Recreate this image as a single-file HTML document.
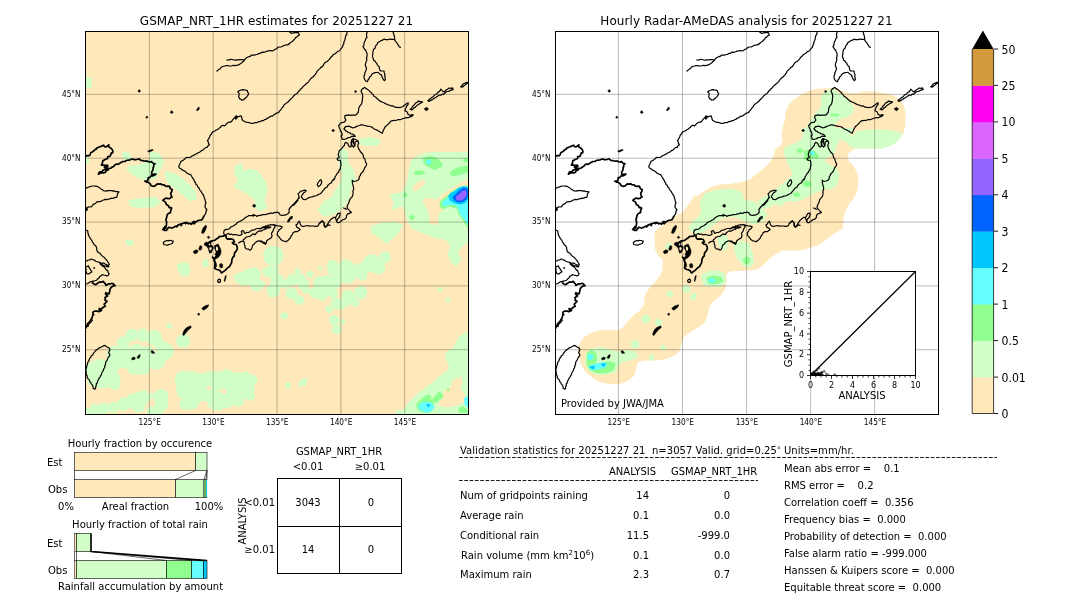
<!DOCTYPE html>
<html><head><meta charset="utf-8"><title>GSMAP_NRT_1HR validation 20251227 21</title>
<style>
html,body{margin:0;padding:0;background:#fff;}
body{width:1080px;height:612px;overflow:hidden;}
svg{display:block;font-family:'DejaVu Sans','Liberation Sans',sans-serif;fill:#000;}
.t12{font-size:12px} .ttl{letter-spacing:.07px} .t10{font-size:10px} .t8{font-size:8px} .tk{font-size:8.4px} .t9{font-size:9px} .t11{font-size:11px}
.m{text-anchor:middle} .e{text-anchor:end}
.coast{fill:none;stroke:#000;stroke-width:1.2;stroke-linejoin:round;stroke-linecap:round}
.isl{fill:#000;stroke:#000;stroke-width:0.45;stroke-linejoin:round}
.grid{stroke:#000;stroke-opacity:.27;stroke-width:1;fill:none}
.fr{fill:none;stroke:#000;stroke-width:1}
</style></head><body>
<svg width="1080" height="612" viewBox="0 0 1080 612">
<rect width="1080" height="612" fill="#fff"/>

<defs><clipPath id="clip1"><rect x="85.5" y="31.5" width="383.0" height="383.0"/></clipPath></defs>
<rect x="85.5" y="31.5" width="383.0" height="383.0" fill="#ffe8ba"/>
<g clip-path="url(#clip1)">
<path d="M85.0 78.1L90.6 77.4L91.3 87.5L85.0 88.1Z" fill="#d2ffc8" stroke="#d2ffc8" stroke-width="1.2" stroke-linejoin="round"/><path d="M122.6 151.8L128.9 153.4L132.1 159.6L127.4 161.2L122.6 156.5Z" fill="#d2ffc8" stroke="#d2ffc8" stroke-width="1.2" stroke-linejoin="round"/><path d="M149.3 151.8L158.7 153.4L163.4 161.2L160.3 169.0L155.6 178.5L147.7 180.0L139.9 178.5L132.1 173.7L127.4 169.0L128.9 165.9L138.3 165.9L146.2 162.8L150.9 158.1Z" fill="#d2ffc8" stroke="#d2ffc8" stroke-width="1.2" stroke-linejoin="round"/><path d="M165.0 172.2L174.4 173.7L182.3 178.5L188.5 184.7L194.8 191.0L196.4 198.8L190.1 200.4L182.3 194.1L174.4 187.9L167.2 181.6Z" fill="#d2ffc8" stroke="#d2ffc8" stroke-width="1.2" stroke-linejoin="round"/><path d="M128.9 200.4L141.5 198.8L155.6 197.3L160.3 202.0L154.0 206.7L141.5 207.3L130.5 206.1Z" fill="#d2ffc8" stroke="#d2ffc8" stroke-width="1.2" stroke-linejoin="round"/><path d="M85.0 156.5L88.1 157.1L88.8 162.8L85.0 163.4Z" fill="#d2ffc8" stroke="#d2ffc8" stroke-width="1.2" stroke-linejoin="round"/><path d="M235.6 165.9L241.9 164.3L243.4 172.2L249.7 169.0L256.0 170.6L260.7 175.3L265.4 181.6L267.0 191.0L263.8 200.4L267.0 206.7L260.7 211.4L254.4 206.7L256.0 200.4L248.1 194.1L240.3 189.4L234.0 186.3L238.7 180.0L235.0 173.7Z" fill="#d2ffc8" stroke="#d2ffc8" stroke-width="1.2" stroke-linejoin="round"/><path d="M360.1 139.2L371.1 137.7L380.5 140.8L377.4 145.5L366.4 145.5L359.2 143.9Z" fill="#d2ffc8" stroke="#d2ffc8" stroke-width="1.2" stroke-linejoin="round"/><path d="M341.3 148.6L347.6 151.8L347.6 162.8L352.3 169.0L355.4 178.5L350.7 187.9L349.2 197.3L344.5 205.1L338.2 211.4L331.9 214.5L324.1 216.1L317.8 209.8L324.1 202.0L331.9 197.3L335.0 191.0L339.7 184.7L342.9 175.3L339.7 165.9L338.2 156.5Z" fill="#d2ffc8" stroke="#d2ffc8" stroke-width="1.2" stroke-linejoin="round"/><path d="M469.0 153.0L461.9 152.6L453.6 152.6L445.4 152.6L437.2 152.4L428.9 153.0L422.1 154.4L415.9 157.2L411.8 160.6L410.4 166.1L409.0 171.6L408.3 177.1L407.0 182.5L405.6 187.4L402.8 191.5L398.0 193.5L392.5 194.2L390.5 196.3L392.5 199.0L394.6 202.5L393.2 205.9L391.9 208.6L393.9 209.3L396.7 207.3L400.1 205.9L404.2 207.3L405.6 211.4L407.0 216.9L408.3 222.4L412.5 227.8L420.7 229.2L426.2 226.5L430.3 224.0L469.0 224.0Z" fill="#d2ffc8" stroke="#d2ffc8" stroke-width="1.2" stroke-linejoin="round"/><path d="M125.8 240.8L132.1 240.2L133.6 244.6L127.4 245.5Z" fill="#d2ffc8" stroke="#d2ffc8" stroke-width="1.2" stroke-linejoin="round"/><path d="M177.5 264.4L187.0 262.8L190.1 269.1L188.5 275.3L182.3 276.0L178.5 270.6Z" fill="#d2ffc8" stroke="#d2ffc8" stroke-width="1.2" stroke-linejoin="round"/><path d="M202.6 261.2L207.4 259.6L208.0 265.9L203.6 266.5Z" fill="#d2ffc8" stroke="#d2ffc8" stroke-width="1.2" stroke-linejoin="round"/><path d="M234.0 275.3L241.9 272.2L249.7 269.1L256.0 267.5L260.7 272.2L259.1 280.0L265.4 283.2L260.7 289.5L254.4 291.0L249.7 284.7L241.9 284.7L235.6 281.6Z" fill="#d2ffc8" stroke="#d2ffc8" stroke-width="1.2" stroke-linejoin="round"/><path d="M262.3 269.1L270.1 267.5L277.9 265.9L277.9 276.9L270.1 276.9L263.8 274.7Z" fill="#d2ffc8" stroke="#d2ffc8" stroke-width="1.2" stroke-linejoin="round"/><path d="M267.0 289.5L277.9 287.9L277.9 295.7L270.1 296.7Z" fill="#d2ffc8" stroke="#d2ffc8" stroke-width="1.2" stroke-linejoin="round"/><path d="M167.2 324.0L171.3 324.0L171.3 328.0L167.2 328.0Z" fill="#d2ffc8" stroke="#d2ffc8" stroke-width="1.2" stroke-linejoin="round"/><path d="M371.1 226.7L380.5 223.6L393.1 222.0L402.5 225.1L397.8 233.0L391.5 239.3L383.7 240.8L377.4 236.1L372.7 233.0Z" fill="#d2ffc8" stroke="#d2ffc8" stroke-width="1.2" stroke-linejoin="round"/><path d="M410.3 222.0L469.9 222.0L469.9 240.8L462.1 245.5L457.4 251.8L460.5 259.6L455.8 265.9L451.1 261.2L448.0 253.4L451.1 245.5L446.4 239.3L435.4 237.7L427.6 234.5L419.7 231.4L411.9 228.3Z" fill="#d2ffc8" stroke="#d2ffc8" stroke-width="1.2" stroke-linejoin="round"/><path d="M442.0 289.5L441.7 290.6L440.7 291.2L439.6 291.2L438.6 290.6L438.3 289.5L438.6 288.3L439.6 287.7L440.7 287.7L441.7 288.3Z" fill="#d2ffc8" stroke="#d2ffc8" stroke-width="1.2" stroke-linejoin="round"/><path d="M449.9 300.4L449.5 301.5L448.6 302.2L447.4 302.2L446.5 301.5L446.1 300.4L446.5 299.3L447.4 298.6L448.6 298.6L449.5 299.3Z" fill="#d2ffc8" stroke="#d2ffc8" stroke-width="1.2" stroke-linejoin="round"/><path d="M285.8 316.1L285.3 317.6L284.1 318.5L282.5 318.5L281.2 317.6L280.8 316.1L281.2 314.6L282.5 313.7L284.1 313.7L285.3 314.6Z" fill="#d2ffc8" stroke="#d2ffc8" stroke-width="1.2" stroke-linejoin="round"/><path d="M300.5 380.4L306.8 378.9L305.2 385.1L299.0 385.8Z" fill="#d2ffc8" stroke="#d2ffc8" stroke-width="1.2" stroke-linejoin="round"/><path d="M290.5 385.1L290.0 386.6L288.8 387.5L287.2 387.5L285.9 386.6L285.5 385.1L285.9 383.7L287.2 382.8L288.8 382.8L290.0 383.7Z" fill="#d2ffc8" stroke="#d2ffc8" stroke-width="1.2" stroke-linejoin="round"/><path d="M469.4 330.7L464.6 333.4L459.8 336.9L456.4 342.4L454.3 347.8L449.5 350.6L445.4 354.0L446.8 359.5L448.8 363.6L449.5 369.1L445.4 372.5L441.3 375.3L437.2 378.7L433.0 382.8L428.2 386.3L424.1 389.7L420.0 392.5L415.9 395.9L411.8 400.0L408.3 404.1L405.6 408.2L401.5 411.0L397.4 410.7L394.6 415.1L469.4 415.1Z" fill="#d2ffc8" stroke="#d2ffc8" stroke-width="1.2" stroke-linejoin="round"/><path d="M283.1 255.8L281.2 261.6L276.3 265.1L270.3 265.1L265.4 261.6L263.6 255.8L265.4 250.1L270.3 246.6L276.3 246.6L281.2 250.1Z" fill="#d2ffc8" stroke="#d2ffc8" stroke-width="1.2" stroke-linejoin="round"/><path d="M274.3 270.8L273.5 273.4L271.3 275.0L268.7 275.0L266.5 273.4L265.7 270.8L266.5 268.3L268.7 266.7L271.3 266.7L273.5 268.3Z" fill="#d2ffc8" stroke="#d2ffc8" stroke-width="1.2" stroke-linejoin="round"/><path d="M284.0 280.8L282.8 284.7L279.5 287.0L275.5 287.0L272.2 284.7L271.0 280.8L272.2 277.0L275.5 274.7L279.5 274.7L282.8 277.0Z" fill="#d2ffc8" stroke="#d2ffc8" stroke-width="1.2" stroke-linejoin="round"/><path d="M279.8 290.0L278.6 293.8L275.3 296.2L271.3 296.2L268.1 293.8L266.8 290.0L268.1 286.2L271.3 283.8L275.3 283.8L278.6 286.2Z" fill="#d2ffc8" stroke="#d2ffc8" stroke-width="1.2" stroke-linejoin="round"/><path d="M289.3 284.2L288.5 286.7L286.3 288.3L283.7 288.3L281.5 286.7L280.7 284.2L281.5 281.6L283.7 280.0L286.3 280.0L288.5 281.6Z" fill="#d2ffc8" stroke="#d2ffc8" stroke-width="1.2" stroke-linejoin="round"/><path d="M297.9 280.0L296.9 283.2L294.2 285.2L290.8 285.2L288.1 283.2L287.1 280.0L288.1 276.8L290.8 274.8L294.2 274.8L296.9 276.8Z" fill="#d2ffc8" stroke="#d2ffc8" stroke-width="1.2" stroke-linejoin="round"/><path d="M305.4 279.2L304.4 282.4L301.7 284.3L298.3 284.3L295.6 282.4L294.6 279.2L295.6 276.0L298.3 274.0L301.7 274.0L304.4 276.0Z" fill="#d2ffc8" stroke="#d2ffc8" stroke-width="1.2" stroke-linejoin="round"/><path d="M308.8 284.2L307.7 287.4L305.0 289.3L301.7 289.3L299.0 287.4L297.9 284.2L299.0 281.0L301.7 279.0L305.0 279.0L307.7 281.0Z" fill="#d2ffc8" stroke="#d2ffc8" stroke-width="1.2" stroke-linejoin="round"/><path d="M297.1 293.3L296.0 296.5L293.3 298.5L290.0 298.5L287.3 296.5L286.2 293.3L287.3 290.1L290.0 288.2L293.3 288.2L296.0 290.1Z" fill="#d2ffc8" stroke="#d2ffc8" stroke-width="1.2" stroke-linejoin="round"/><path d="M300.1 271.7L299.6 273.2L298.3 274.1L296.7 274.1L295.4 273.2L294.9 271.7L295.4 270.1L296.7 269.2L298.3 269.2L299.6 270.1Z" fill="#d2ffc8" stroke="#d2ffc8" stroke-width="1.2" stroke-linejoin="round"/><path d="M303.5 300.0L302.7 302.5L300.5 304.1L297.8 304.1L295.7 302.5L294.8 300.0L295.7 297.5L297.8 295.9L300.5 295.9L302.7 297.5Z" fill="#d2ffc8" stroke="#d2ffc8" stroke-width="1.2" stroke-linejoin="round"/><path d="M313.0 274.2L312.5 275.9L310.9 277.1L309.1 277.1L307.5 275.9L307.0 274.2L307.5 272.4L309.1 271.3L310.9 271.3L312.5 272.4Z" fill="#d2ffc8" stroke="#d2ffc8" stroke-width="1.2" stroke-linejoin="round"/><path d="M309.1 290.0L308.5 291.9L306.8 293.1L304.8 293.1L303.2 291.9L302.6 290.0L303.2 288.1L304.8 286.9L306.8 286.9L308.5 288.1Z" fill="#d2ffc8" stroke="#d2ffc8" stroke-width="1.2" stroke-linejoin="round"/><path d="M321.7 268.3L321.4 269.4L320.5 270.0L319.5 270.0L318.6 269.4L318.3 268.3L318.6 267.3L319.5 266.7L320.5 266.7L321.4 267.3Z" fill="#d2ffc8" stroke="#d2ffc8" stroke-width="1.2" stroke-linejoin="round"/><path d="M326.1 282.5L324.9 286.1L321.9 288.3L318.1 288.3L315.1 286.1L313.9 282.5L315.1 278.9L318.1 276.7L321.9 276.7L324.9 278.9Z" fill="#d2ffc8" stroke="#d2ffc8" stroke-width="1.2" stroke-linejoin="round"/><path d="M320.4 292.5L319.4 295.7L316.7 297.7L313.3 297.7L310.6 295.7L309.6 292.5L310.6 289.3L313.3 287.3L316.7 287.3L319.4 289.3Z" fill="#d2ffc8" stroke="#d2ffc8" stroke-width="1.2" stroke-linejoin="round"/><path d="M327.7 294.2L326.6 297.7L323.5 299.9L319.8 299.9L316.8 297.7L315.6 294.2L316.8 290.6L319.8 288.4L323.5 288.4L326.6 290.6Z" fill="#d2ffc8" stroke="#d2ffc8" stroke-width="1.2" stroke-linejoin="round"/><path d="M333.6 281.7L332.4 285.2L329.4 287.4L325.6 287.4L322.6 285.2L321.4 281.7L322.6 278.1L325.6 275.9L329.4 275.9L332.4 278.1Z" fill="#d2ffc8" stroke="#d2ffc8" stroke-width="1.2" stroke-linejoin="round"/><path d="M332.9 290.0L331.9 293.2L329.2 295.2L325.8 295.2L323.1 293.2L322.1 290.0L323.1 286.8L325.8 284.8L329.2 284.8L331.9 286.8Z" fill="#d2ffc8" stroke="#d2ffc8" stroke-width="1.2" stroke-linejoin="round"/><path d="M340.7 282.5L339.4 286.3L336.2 288.7L332.2 288.7L328.9 286.3L327.7 282.5L328.9 278.7L332.2 276.3L336.2 276.3L339.4 278.7Z" fill="#d2ffc8" stroke="#d2ffc8" stroke-width="1.2" stroke-linejoin="round"/><path d="M337.7 293.3L336.8 295.9L334.7 297.5L332.0 297.5L329.8 295.9L329.0 293.3L329.8 290.8L332.0 289.2L334.7 289.2L336.8 290.8Z" fill="#d2ffc8" stroke="#d2ffc8" stroke-width="1.2" stroke-linejoin="round"/><path d="M337.9 265.8L336.9 269.0L334.2 271.0L330.8 271.0L328.1 269.0L327.1 265.8L328.1 262.6L330.8 260.7L334.2 260.7L336.9 262.6Z" fill="#d2ffc8" stroke="#d2ffc8" stroke-width="1.2" stroke-linejoin="round"/><path d="M336.8 270.8L336.0 273.4L333.8 275.0L331.2 275.0L329.0 273.4L328.2 270.8L329.0 268.3L331.2 266.7L333.8 266.7L336.0 268.3Z" fill="#d2ffc8" stroke="#d2ffc8" stroke-width="1.2" stroke-linejoin="round"/><path d="M346.5 276.7L345.3 280.5L342.0 282.8L338.0 282.8L334.7 280.5L333.5 276.7L334.7 272.8L338.0 270.5L342.0 270.5L345.3 272.8Z" fill="#d2ffc8" stroke="#d2ffc8" stroke-width="1.2" stroke-linejoin="round"/><path d="M353.4 267.5L352.0 272.0L348.2 274.7L343.5 274.7L339.7 272.0L338.2 267.5L339.7 263.0L343.5 260.3L348.2 260.3L352.0 263.0Z" fill="#d2ffc8" stroke="#d2ffc8" stroke-width="1.2" stroke-linejoin="round"/><path d="M354.8 276.7L353.6 280.5L350.3 282.8L346.3 282.8L343.1 280.5L341.8 276.7L343.1 272.8L346.3 270.5L350.3 270.5L353.6 272.8Z" fill="#d2ffc8" stroke="#d2ffc8" stroke-width="1.2" stroke-linejoin="round"/><path d="M359.8 271.7L358.6 275.5L355.3 277.8L351.3 277.8L348.1 275.5L346.8 271.7L348.1 267.8L351.3 265.5L355.3 265.5L358.6 267.8Z" fill="#d2ffc8" stroke="#d2ffc8" stroke-width="1.2" stroke-linejoin="round"/><path d="M367.6 270.8L366.1 275.3L362.3 278.0L357.7 278.0L353.9 275.3L352.4 270.8L353.9 266.4L357.7 263.6L362.3 263.6L366.1 266.4Z" fill="#d2ffc8" stroke="#d2ffc8" stroke-width="1.2" stroke-linejoin="round"/><path d="M366.8 275.8L366.0 278.4L363.8 280.0L361.2 280.0L359.0 278.4L358.2 275.8L359.0 273.3L361.2 271.7L363.8 271.7L366.0 273.3Z" fill="#d2ffc8" stroke="#d2ffc8" stroke-width="1.2" stroke-linejoin="round"/><path d="M380.3 263.3L378.7 268.4L374.3 271.6L369.0 271.6L364.7 268.4L363.0 263.3L364.7 258.2L369.0 255.1L374.3 255.1L378.7 258.2Z" fill="#d2ffc8" stroke="#d2ffc8" stroke-width="1.2" stroke-linejoin="round"/><path d="M384.8 267.5L383.6 271.3L380.3 273.7L376.3 273.7L373.1 271.3L371.8 267.5L373.1 263.7L376.3 261.3L380.3 261.3L383.6 263.7Z" fill="#d2ffc8" stroke="#d2ffc8" stroke-width="1.2" stroke-linejoin="round"/><path d="M390.4 257.5L389.4 260.7L386.7 262.7L383.3 262.7L380.6 260.7L379.6 257.5L380.6 254.3L383.3 252.3L386.7 252.3L389.4 254.3Z" fill="#d2ffc8" stroke="#d2ffc8" stroke-width="1.2" stroke-linejoin="round"/><path d="M366.9 292.5L365.7 296.1L362.7 298.3L359.0 298.3L355.9 296.1L354.8 292.5L355.9 288.9L359.0 286.7L362.7 286.7L365.7 288.9Z" fill="#d2ffc8" stroke="#d2ffc8" stroke-width="1.2" stroke-linejoin="round"/><path d="M358.9 302.5L358.2 304.8L356.2 306.2L353.8 306.2L351.8 304.8L351.1 302.5L351.8 300.2L353.8 298.8L356.2 298.8L358.2 300.2Z" fill="#d2ffc8" stroke="#d2ffc8" stroke-width="1.2" stroke-linejoin="round"/><path d="M354.8 296.7L353.6 300.5L350.3 302.8L346.3 302.8L343.1 300.5L341.8 296.7L343.1 292.8L346.3 290.5L350.3 290.5L353.6 292.8Z" fill="#d2ffc8" stroke="#d2ffc8" stroke-width="1.2" stroke-linejoin="round"/><path d="M342.1 303.3L341.0 306.5L338.3 308.5L335.0 308.5L332.3 306.5L331.2 303.3L332.3 300.1L335.0 298.2L338.3 298.2L341.0 300.1Z" fill="#d2ffc8" stroke="#d2ffc8" stroke-width="1.2" stroke-linejoin="round"/><path d="M344.1 305.8L343.5 307.7L341.8 308.9L339.8 308.9L338.2 307.7L337.6 305.8L338.2 303.9L339.8 302.7L341.8 302.7L343.5 303.9Z" fill="#d2ffc8" stroke="#d2ffc8" stroke-width="1.2" stroke-linejoin="round"/><path d="M350.2 302.5L349.3 305.0L347.2 306.6L344.5 306.6L342.3 305.0L341.5 302.5L342.3 300.0L344.5 298.4L347.2 298.4L349.3 300.0Z" fill="#d2ffc8" stroke="#d2ffc8" stroke-width="1.2" stroke-linejoin="round"/><path d="M332.4 309.2L331.8 311.1L330.2 312.3L328.2 312.3L326.5 311.1L325.9 309.2L326.5 307.3L328.2 306.1L330.2 306.1L331.8 307.3Z" fill="#d2ffc8" stroke="#d2ffc8" stroke-width="1.2" stroke-linejoin="round"/><path d="M338.9 320.0L338.0 322.8L335.6 324.5L332.7 324.5L330.3 322.8L329.4 320.0L330.3 317.2L332.7 315.5L335.6 315.5L338.0 317.2Z" fill="#d2ffc8" stroke="#d2ffc8" stroke-width="1.2" stroke-linejoin="round"/><path d="M341.0 329.2L340.2 331.7L338.0 333.3L335.3 333.3L333.2 331.7L332.3 329.2L333.2 326.6L335.3 325.0L338.0 325.0L340.2 326.6Z" fill="#d2ffc8" stroke="#d2ffc8" stroke-width="1.2" stroke-linejoin="round"/><path d="M344.7 322.0L344.3 323.3L343.2 324.1L341.8 324.1L340.7 323.3L340.3 322.0L340.7 320.7L341.8 319.9L343.2 319.9L344.3 320.7Z" fill="#d2ffc8" stroke="#d2ffc8" stroke-width="1.2" stroke-linejoin="round"/><path d="M287.7 315.8L287.1 317.6L285.6 318.7L283.7 318.7L282.2 317.6L281.6 315.8L282.2 314.1L283.7 312.9L285.6 312.9L287.1 314.1Z" fill="#d2ffc8" stroke="#d2ffc8" stroke-width="1.2" stroke-linejoin="round"/><path d="M389.3 240.0L388.8 241.5L387.5 242.5L385.9 242.5L384.6 241.5L384.1 240.0L384.6 238.5L385.9 237.5L387.5 237.5L388.8 238.5Z" fill="#d2ffc8" stroke="#d2ffc8" stroke-width="1.2" stroke-linejoin="round"/><path d="M137.5 335.2L136.4 338.6L133.5 340.7L129.9 340.7L126.9 338.6L125.8 335.2L126.9 331.7L129.9 329.6L133.5 329.6L136.4 331.7Z" fill="#d2ffc8" stroke="#d2ffc8" stroke-width="1.2" stroke-linejoin="round"/><path d="M148.8 335.2L147.6 338.8L144.4 341.1L140.6 341.1L137.4 338.8L136.2 335.2L137.4 331.5L140.6 329.2L144.4 329.2L147.6 331.5Z" fill="#d2ffc8" stroke="#d2ffc8" stroke-width="1.2" stroke-linejoin="round"/><path d="M161.5 337.7L160.1 342.0L156.4 344.6L151.9 344.6L148.3 342.0L146.9 337.7L148.3 333.4L151.9 330.7L156.4 330.7L160.1 333.4Z" fill="#d2ffc8" stroke="#d2ffc8" stroke-width="1.2" stroke-linejoin="round"/><path d="M129.2 342.7L128.1 346.1L125.1 348.2L121.5 348.2L118.6 346.1L117.5 342.7L118.6 339.2L121.5 337.1L125.1 337.1L128.1 339.2Z" fill="#d2ffc8" stroke="#d2ffc8" stroke-width="1.2" stroke-linejoin="round"/><path d="M165.2 345.2L164.2 348.2L161.6 350.1L158.4 350.1L155.8 348.2L154.8 345.2L155.8 342.1L158.4 340.2L161.6 340.2L164.2 342.1Z" fill="#d2ffc8" stroke="#d2ffc8" stroke-width="1.2" stroke-linejoin="round"/><path d="M173.3 351.0L171.7 355.9L167.6 358.9L162.4 358.9L158.3 355.9L156.7 351.0L158.3 346.1L162.4 343.1L167.6 343.1L171.7 346.1Z" fill="#d2ffc8" stroke="#d2ffc8" stroke-width="1.2" stroke-linejoin="round"/><path d="M190.0 341.0L188.7 344.9L185.4 347.3L181.3 347.3L177.9 344.9L176.7 341.0L177.9 337.1L181.3 334.7L185.4 334.7L188.7 337.1Z" fill="#d2ffc8" stroke="#d2ffc8" stroke-width="1.2" stroke-linejoin="round"/><path d="M123.3 354.3L121.7 359.2L117.6 362.3L112.4 362.3L108.3 359.2L106.7 354.3L108.3 349.4L112.4 346.4L117.6 346.4L121.7 349.4Z" fill="#d2ffc8" stroke="#d2ffc8" stroke-width="1.2" stroke-linejoin="round"/><path d="M135.4 357.7L133.4 363.8L128.2 367.6L121.8 367.6L116.6 363.8L114.6 357.7L116.6 351.5L121.8 347.8L128.2 347.8L133.4 351.5Z" fill="#d2ffc8" stroke="#d2ffc8" stroke-width="1.2" stroke-linejoin="round"/><path d="M145.0 352.7L143.4 357.6L139.2 360.6L134.1 360.6L129.9 357.6L128.3 352.7L129.9 347.8L134.1 344.7L139.2 344.7L143.4 347.8Z" fill="#d2ffc8" stroke="#d2ffc8" stroke-width="1.2" stroke-linejoin="round"/><path d="M156.0 356.0L154.3 361.5L149.6 364.9L143.8 364.9L139.1 361.5L137.3 356.0L139.1 350.5L143.8 347.1L149.6 347.1L154.3 350.5Z" fill="#d2ffc8" stroke="#d2ffc8" stroke-width="1.2" stroke-linejoin="round"/><path d="M165.0 361.0L163.4 365.9L159.2 368.9L154.1 368.9L149.9 365.9L148.3 361.0L149.9 356.1L154.1 353.1L159.2 353.1L163.4 356.1Z" fill="#d2ffc8" stroke="#d2ffc8" stroke-width="1.2" stroke-linejoin="round"/><path d="M143.3 366.0L141.7 370.9L137.6 373.9L132.4 373.9L128.3 370.9L126.7 366.0L128.3 361.1L132.4 358.1L137.6 358.1L141.7 361.1Z" fill="#d2ffc8" stroke="#d2ffc8" stroke-width="1.2" stroke-linejoin="round"/><path d="M149.6 368.5L148.4 372.2L145.3 374.4L141.4 374.4L138.3 372.2L137.1 368.5L138.3 364.8L141.4 362.6L145.3 362.6L148.4 364.8Z" fill="#d2ffc8" stroke="#d2ffc8" stroke-width="1.2" stroke-linejoin="round"/><path d="M120.6 364.3L119.2 368.6L115.6 371.3L111.1 371.3L107.4 368.6L106.0 364.3L107.4 360.0L111.1 357.4L115.6 357.4L119.2 360.0Z" fill="#d2ffc8" stroke="#d2ffc8" stroke-width="1.2" stroke-linejoin="round"/><path d="M117.1 371.0L115.1 377.1L109.9 380.9L103.4 380.9L98.2 377.1L96.2 371.0L98.2 364.9L103.4 361.1L109.9 361.1L115.1 364.9Z" fill="#d2ffc8" stroke="#d2ffc8" stroke-width="1.2" stroke-linejoin="round"/><path d="M120.0 379.3L118.4 384.2L114.2 387.3L109.1 387.3L104.9 384.2L103.3 379.3L104.9 374.4L109.1 371.4L114.2 371.4L118.4 374.4Z" fill="#d2ffc8" stroke="#d2ffc8" stroke-width="1.2" stroke-linejoin="round"/><path d="M112.1 377.7L110.1 383.8L104.9 387.6L98.4 387.6L93.2 383.8L91.2 377.7L93.2 371.5L98.4 367.8L104.9 367.8L110.1 371.5Z" fill="#d2ffc8" stroke="#d2ffc8" stroke-width="1.2" stroke-linejoin="round"/><path d="M108.3 367.7L106.7 372.6L102.6 375.6L97.4 375.6L93.3 372.6L91.7 367.7L93.3 362.8L97.4 359.7L102.6 359.7L106.7 362.8Z" fill="#d2ffc8" stroke="#d2ffc8" stroke-width="1.2" stroke-linejoin="round"/><path d="M120.2 384.3L119.2 387.4L116.6 389.3L113.4 389.3L110.8 387.4L109.8 384.3L110.8 381.3L113.4 379.4L116.6 379.4L119.2 381.3Z" fill="#d2ffc8" stroke="#d2ffc8" stroke-width="1.2" stroke-linejoin="round"/><path d="M103.3 369.3L101.7 374.2L97.6 377.3L92.4 377.3L88.3 374.2L86.7 369.3L88.3 364.4L92.4 361.4L97.6 361.4L101.7 364.4Z" fill="#d2ffc8" stroke="#d2ffc8" stroke-width="1.2" stroke-linejoin="round"/><path d="M102.3 379.3L100.9 383.6L97.3 386.3L92.7 386.3L89.1 383.6L87.7 379.3L89.1 375.0L92.7 372.4L97.3 372.4L100.9 375.0Z" fill="#d2ffc8" stroke="#d2ffc8" stroke-width="1.2" stroke-linejoin="round"/><path d="M100.2 409.3L99.2 412.4L96.6 414.3L93.4 414.3L90.8 412.4L89.8 409.3L90.8 406.3L93.4 404.4L96.6 404.4L99.2 406.3Z" fill="#d2ffc8" stroke="#d2ffc8" stroke-width="1.2" stroke-linejoin="round"/><path d="M108.5 408.5L107.5 411.6L104.9 413.5L101.7 413.5L99.1 411.6L98.1 408.5L99.1 405.4L101.7 403.5L104.9 403.5L107.5 405.4Z" fill="#d2ffc8" stroke="#d2ffc8" stroke-width="1.2" stroke-linejoin="round"/><path d="M118.5 407.7L117.5 410.7L114.9 412.6L111.7 412.6L109.1 410.7L108.1 407.7L109.1 404.6L111.7 402.7L114.9 402.7L117.5 404.6Z" fill="#d2ffc8" stroke="#d2ffc8" stroke-width="1.2" stroke-linejoin="round"/><path d="M129.6 404.3L128.4 408.0L125.3 410.3L121.4 410.3L118.3 408.0L117.1 404.3L118.3 400.7L121.4 398.4L125.3 398.4L128.4 400.7Z" fill="#d2ffc8" stroke="#d2ffc8" stroke-width="1.2" stroke-linejoin="round"/><path d="M140.6 401.0L139.2 405.3L135.6 407.9L131.1 407.9L127.4 405.3L126.0 401.0L127.4 396.7L131.1 394.1L135.6 394.1L139.2 396.7Z" fill="#d2ffc8" stroke="#d2ffc8" stroke-width="1.2" stroke-linejoin="round"/><path d="M149.0 398.5L147.6 402.8L143.9 405.4L139.4 405.4L135.8 402.8L134.4 398.5L135.8 394.2L139.4 391.6L143.9 391.6L147.6 394.2Z" fill="#d2ffc8" stroke="#d2ffc8" stroke-width="1.2" stroke-linejoin="round"/><path d="M147.3 393.5L146.7 395.3L145.1 396.5L143.2 396.5L141.6 395.3L141.0 393.5L141.6 391.7L143.2 390.5L145.1 390.5L146.7 391.7Z" fill="#d2ffc8" stroke="#d2ffc8" stroke-width="1.2" stroke-linejoin="round"/><path d="M144.6 406.0L143.4 409.7L140.3 411.9L136.4 411.9L133.3 409.7L132.1 406.0L133.3 402.3L136.4 400.1L140.3 400.1L143.4 402.3Z" fill="#d2ffc8" stroke="#d2ffc8" stroke-width="1.2" stroke-linejoin="round"/><path d="M153.3 396.0L152.9 397.5L151.6 398.4L150.1 398.4L148.8 397.5L148.3 396.0L148.8 394.5L150.1 393.6L151.6 393.6L152.9 394.5Z" fill="#d2ffc8" stroke="#d2ffc8" stroke-width="1.2" stroke-linejoin="round"/><path d="M168.1 396.8L166.7 401.1L163.1 403.8L158.6 403.8L154.9 401.1L153.5 396.8L154.9 392.5L158.6 389.9L163.1 389.9L166.7 392.5Z" fill="#d2ffc8" stroke="#d2ffc8" stroke-width="1.2" stroke-linejoin="round"/><path d="M167.9 404.3L166.7 408.0L163.6 410.3L159.7 410.3L156.6 408.0L155.4 404.3L156.6 400.7L159.7 398.4L163.6 398.4L166.7 400.7Z" fill="#d2ffc8" stroke="#d2ffc8" stroke-width="1.2" stroke-linejoin="round"/><path d="M163.5 410.2L162.5 413.2L159.9 415.1L156.7 415.1L154.1 413.2L153.1 410.2L154.1 407.1L156.7 405.2L159.9 405.2L162.5 407.1Z" fill="#d2ffc8" stroke="#d2ffc8" stroke-width="1.2" stroke-linejoin="round"/><path d="M155.0 411.0L154.2 413.4L152.1 415.0L149.5 415.0L147.5 413.4L146.7 411.0L147.5 408.6L149.5 407.0L152.1 407.0L154.2 408.6Z" fill="#d2ffc8" stroke="#d2ffc8" stroke-width="1.2" stroke-linejoin="round"/><path d="M92.5 412.7L91.7 415.1L89.6 416.6L87.0 416.6L85.0 415.1L84.2 412.7L85.0 410.2L87.0 408.7L89.6 408.7L91.7 410.2Z" fill="#d2ffc8" stroke="#d2ffc8" stroke-width="1.2" stroke-linejoin="round"/><path d="M191.7 379.3L190.1 384.2L185.9 387.3L180.8 387.3L176.6 384.2L175.0 379.3L176.6 374.4L180.8 371.4L185.9 371.4L190.1 374.4Z" fill="#d2ffc8" stroke="#d2ffc8" stroke-width="1.2" stroke-linejoin="round"/><path d="M201.0 381.0L199.3 386.5L194.6 389.9L188.8 389.9L184.1 386.5L182.3 381.0L184.1 375.5L188.8 372.1L194.6 372.1L199.3 375.5Z" fill="#d2ffc8" stroke="#d2ffc8" stroke-width="1.2" stroke-linejoin="round"/><path d="M211.0 382.7L209.3 388.2L204.6 391.6L198.8 391.6L194.1 388.2L192.3 382.7L194.1 377.2L198.8 373.8L204.6 373.8L209.3 377.2Z" fill="#d2ffc8" stroke="#d2ffc8" stroke-width="1.2" stroke-linejoin="round"/><path d="M197.1 389.3L195.1 395.5L189.9 399.2L183.4 399.2L178.2 395.5L176.3 389.3L178.2 383.2L183.4 379.4L189.9 379.4L195.1 383.2Z" fill="#d2ffc8" stroke="#d2ffc8" stroke-width="1.2" stroke-linejoin="round"/><path d="M205.4 392.7L203.4 398.8L198.2 402.6L191.8 402.6L186.6 398.8L184.6 392.7L186.6 386.5L191.8 382.8L198.2 382.8L203.4 386.5Z" fill="#d2ffc8" stroke="#d2ffc8" stroke-width="1.2" stroke-linejoin="round"/><path d="M211.7 392.7L210.1 397.6L205.9 400.6L200.8 400.6L196.6 397.6L195.0 392.7L196.6 387.8L200.8 384.7L205.9 384.7L210.1 387.8Z" fill="#d2ffc8" stroke="#d2ffc8" stroke-width="1.2" stroke-linejoin="round"/><path d="M199.0 401.8L197.6 406.1L193.9 408.8L189.4 408.8L185.8 406.1L184.4 401.8L185.8 397.5L189.4 394.9L193.9 394.9L197.6 397.5Z" fill="#d2ffc8" stroke="#d2ffc8" stroke-width="1.2" stroke-linejoin="round"/><path d="M190.2 404.3L189.2 407.4L186.6 409.3L183.4 409.3L180.8 407.4L179.8 404.3L180.8 401.3L183.4 399.4L186.6 399.4L189.2 401.3Z" fill="#d2ffc8" stroke="#d2ffc8" stroke-width="1.2" stroke-linejoin="round"/><path d="M216.2 377.7L215.1 381.3L211.9 383.6L208.1 383.6L204.9 381.3L203.8 377.7L204.9 374.0L208.1 371.7L211.9 371.7L215.1 374.0Z" fill="#d2ffc8" stroke="#d2ffc8" stroke-width="1.2" stroke-linejoin="round"/><path d="M226.0 381.0L224.3 386.5L219.6 389.9L213.8 389.9L209.1 386.5L207.3 381.0L209.1 375.5L213.8 372.1L219.6 372.1L224.3 375.5Z" fill="#d2ffc8" stroke="#d2ffc8" stroke-width="1.2" stroke-linejoin="round"/><path d="M232.9 376.0L231.7 379.7L228.6 381.9L224.7 381.9L221.6 379.7L220.4 376.0L221.6 372.3L224.7 370.1L228.6 370.1L231.7 372.3Z" fill="#d2ffc8" stroke="#d2ffc8" stroke-width="1.2" stroke-linejoin="round"/><path d="M237.7 384.3L235.9 389.8L231.2 393.2L225.4 393.2L220.7 389.8L219.0 384.3L220.7 378.8L225.4 375.4L231.2 375.4L235.9 378.8Z" fill="#d2ffc8" stroke="#d2ffc8" stroke-width="1.2" stroke-linejoin="round"/><path d="M245.0 381.0L243.4 385.9L239.2 388.9L234.1 388.9L229.9 385.9L228.3 381.0L229.9 376.1L234.1 373.1L239.2 373.1L243.4 376.1Z" fill="#d2ffc8" stroke="#d2ffc8" stroke-width="1.2" stroke-linejoin="round"/><path d="M252.3 379.3L250.9 383.6L247.3 386.3L242.7 386.3L239.1 383.6L237.7 379.3L239.1 375.0L242.7 372.4L247.3 372.4L250.9 375.0Z" fill="#d2ffc8" stroke="#d2ffc8" stroke-width="1.2" stroke-linejoin="round"/><path d="M256.9 380.2L255.9 383.2L253.3 385.1L250.1 385.1L247.5 383.2L246.5 380.2L247.5 377.1L250.1 375.2L253.3 375.2L255.9 377.1Z" fill="#d2ffc8" stroke="#d2ffc8" stroke-width="1.2" stroke-linejoin="round"/><path d="M254.4 389.3L252.6 394.8L247.9 398.2L242.1 398.2L237.4 394.8L235.6 389.3L237.4 383.8L242.1 380.4L247.9 380.4L252.6 383.8Z" fill="#d2ffc8" stroke="#d2ffc8" stroke-width="1.2" stroke-linejoin="round"/><path d="M244.4 394.3L242.6 399.8L237.9 403.2L232.1 403.2L227.4 399.8L225.6 394.3L227.4 388.8L232.1 385.4L237.9 385.4L242.6 388.8Z" fill="#d2ffc8" stroke="#d2ffc8" stroke-width="1.2" stroke-linejoin="round"/><path d="M235.0 399.3L233.4 404.2L229.2 407.3L224.1 407.3L219.9 404.2L218.3 399.3L219.9 394.4L224.1 391.4L229.2 391.4L233.4 394.4Z" fill="#d2ffc8" stroke="#d2ffc8" stroke-width="1.2" stroke-linejoin="round"/><path d="M226.0 401.0L224.3 406.5L219.6 409.9L213.8 409.9L209.1 406.5L207.3 401.0L209.1 395.5L213.8 392.1L219.6 392.1L224.3 395.5Z" fill="#d2ffc8" stroke="#d2ffc8" stroke-width="1.2" stroke-linejoin="round"/><path d="M217.9 396.0L216.7 399.7L213.6 401.9L209.7 401.9L206.6 399.7L205.4 396.0L206.6 392.3L209.7 390.1L213.6 390.1L216.7 392.3Z" fill="#d2ffc8" stroke="#d2ffc8" stroke-width="1.2" stroke-linejoin="round"/><path d="M243.5 401.0L242.5 404.1L239.9 406.0L236.7 406.0L234.1 404.1L233.1 401.0L234.1 397.9L236.7 396.0L239.9 396.0L242.5 397.9Z" fill="#d2ffc8" stroke="#d2ffc8" stroke-width="1.2" stroke-linejoin="round"/><path d="M254.2 396.0L253.4 398.4L251.3 400.0L248.7 400.0L246.6 398.4L245.8 396.0L246.6 393.6L248.7 392.0L251.3 392.0L253.4 393.6Z" fill="#d2ffc8" stroke="#d2ffc8" stroke-width="1.2" stroke-linejoin="round"/><path d="M413.1 186.7L416.6 183.9L420.7 181.2L424.1 180.5L424.8 182.5L422.1 186.0L418.6 188.7L415.2 190.5L413.1 189.4Z" fill="#ffe8ba" stroke="#ffe8ba" stroke-width="1.2" stroke-linejoin="round"/><path d="M424.1 199.0L430.3 198.3L435.8 200.4L439.9 197.6L445.4 192.8L450.9 189.4L456.4 186.0L461.9 182.5L469.0 179.1L469.0 185.3L463.2 187.4L457.7 189.4L452.3 192.2L448.1 194.9L444.0 198.3L441.3 200.4L439.2 204.5L439.9 208.6L442.6 210.0L439.9 211.4L437.8 214.1L437.2 218.2L437.8 224.0L430.3 224.0L429.6 216.9L428.9 211.4L426.2 205.9L423.7 202.5Z" fill="#ffe8ba" stroke="#ffe8ba" stroke-width="1.2" stroke-linejoin="round"/><path d="M452.3 381.5L456.4 378.7L461.2 377.4L461.9 382.2L459.8 387.6L461.9 391.8L464.6 395.9L463.9 401.4L459.1 404.1L453.6 405.5L448.1 406.9L442.6 406.2L439.2 404.8L439.9 401.4L443.3 398.6L442.6 394.5L445.4 390.4L449.5 387.6L452.9 385.6Z" fill="#ffe8ba" stroke="#ffe8ba" stroke-width="1.2" stroke-linejoin="round"/><path d="M225.8 391.3L225.4 392.6L224.3 393.4L223.0 393.4L221.9 392.6L221.5 391.3L221.9 390.1L223.0 389.3L224.3 389.3L225.4 390.1Z" fill="#ffe8ba" stroke="#ffe8ba" stroke-width="1.2" stroke-linejoin="round"/><path d="M211.0 388.0L210.6 389.1L209.7 389.7L208.6 389.7L207.7 389.1L207.3 388.0L207.7 386.9L208.6 386.3L209.7 386.3L210.6 386.9Z" fill="#ffe8ba" stroke="#ffe8ba" stroke-width="1.2" stroke-linejoin="round"/><path d="M423.4 159.2L426.2 157.2L431.0 156.5L435.1 157.8L439.2 160.6L442.0 164.0L441.3 166.8L437.8 167.5L435.1 169.5L432.4 168.1L429.6 166.8L426.2 165.4L424.1 162.6Z" fill="#90ff90" stroke="#90ff90" stroke-width="1.2" stroke-linejoin="round"/><path d="M414.5 172.3L417.9 170.9L422.7 171.3L424.8 172.9L421.4 174.3L417.3 174.6L414.9 173.6Z" fill="#90ff90" stroke="#90ff90" stroke-width="1.2" stroke-linejoin="round"/><path d="M450.2 172.9L453.6 170.2L457.7 168.1L463.2 166.8L469.0 166.1L469.0 170.9L463.9 172.9L459.1 174.3L454.3 175.4L450.9 174.6Z" fill="#90ff90" stroke="#90ff90" stroke-width="1.2" stroke-linejoin="round"/><path d="M407.0 194.9L406.6 195.9L405.8 196.5L404.8 196.5L404.0 195.9L403.7 194.9L404.0 193.9L404.8 193.3L405.8 193.3L406.6 193.9Z" fill="#90ff90" stroke="#90ff90" stroke-width="1.2" stroke-linejoin="round"/><path d="M409.7 216.9L412.5 214.8L414.5 216.9L412.5 219.3L410.4 218.9Z" fill="#90ff90" stroke="#90ff90" stroke-width="1.2" stroke-linejoin="round"/><path d="M463.2 159.9L466.0 158.5L469.0 159.2L469.0 162.0L464.6 162.0Z" fill="#90ff90" stroke="#90ff90" stroke-width="1.2" stroke-linejoin="round"/><path d="M439.9 204.5L441.3 200.4L445.4 197.6L449.5 194.2L453.6 190.8L459.1 187.4L464.6 186.0L469.0 186.0L469.0 227.8L466.0 225.1L464.6 222.4L461.9 218.2L459.1 214.1L457.7 208.6L453.6 207.3L449.5 205.9L446.1 207.3L442.6 208.6L440.6 207.3Z" fill="#90ff90" stroke="#90ff90" stroke-width="1.2" stroke-linejoin="round"/><path d="M416.6 404.8L420.0 400.7L424.1 397.3L427.5 395.2L430.3 395.9L431.0 400.0L433.0 402.7L433.7 406.9L431.7 410.3L427.5 412.4L422.1 411.7L417.9 408.9Z" fill="#90ff90" stroke="#90ff90" stroke-width="1.2" stroke-linejoin="round"/><path d="M433.0 399.3L436.5 394.5L439.2 392.5L442.0 393.8L442.6 397.3L439.2 399.3L436.5 402.1L433.7 402.1Z" fill="#90ff90" stroke="#90ff90" stroke-width="1.2" stroke-linejoin="round"/><path d="M447.5 389.0L448.8 389.0L448.8 390.4L447.5 390.4Z" fill="#90ff90" stroke="#90ff90" stroke-width="1.2" stroke-linejoin="round"/><path d="M459.1 408.2L461.9 406.9L466.0 408.9L467.4 412.4L459.8 412.4Z" fill="#90ff90" stroke="#90ff90" stroke-width="1.2" stroke-linejoin="round"/><path d="M430.6 162.0L430.2 163.1L429.2 163.8L428.1 163.8L427.1 163.1L426.7 162.0L427.1 160.8L428.1 160.1L429.2 160.1L430.2 160.8Z" fill="#66ffff" stroke="#66ffff" stroke-width="1.2" stroke-linejoin="round"/><path d="M442.6 204.5L444.0 201.1L448.1 198.3L450.2 194.9L453.6 192.2L459.1 188.0L464.6 186.7L469.0 187.4L469.0 225.1L466.7 222.4L464.6 218.9L461.2 214.8L459.1 210.0L457.7 205.9L453.6 204.5L448.1 204.5L445.4 205.9Z" fill="#66ffff" stroke="#66ffff" stroke-width="1.2" stroke-linejoin="round"/><path d="M418.6 406.9L421.4 403.4L426.2 402.1L431.0 403.4L433.7 406.9L431.7 410.3L426.9 412.1L421.4 410.3Z" fill="#66ffff" stroke="#66ffff" stroke-width="1.2" stroke-linejoin="round"/><path d="M464.6 398.6L467.8 396.6L467.8 406.9L465.3 404.8Z" fill="#66ffff" stroke="#66ffff" stroke-width="1.2" stroke-linejoin="round"/><path d="M448.8 196.3L450.9 193.5L455.0 191.5L459.1 188.3L463.9 186.9L467.8 188.0L467.8 199.0L465.3 202.5L461.2 203.8L456.4 203.1L452.9 201.8L450.2 199.7Z" fill="#00c8ff" stroke="#00c8ff" stroke-width="1.2" stroke-linejoin="round"/><path d="M427.0 404.8L429.7 404.8L428.4 406.6Z" fill="#00c8ff" stroke="#00c8ff" stroke-width="1.2" stroke-linejoin="round"/><path d="M453.6 197.0L456.4 194.2L459.8 190.8L463.2 188.3L466.9 188.7L467.4 194.9L466.0 199.0L463.2 201.1L459.8 201.8L456.4 201.1L454.3 199.3Z" fill="#0064ff" stroke="#0064ff" stroke-width="1.2" stroke-linejoin="round"/><path d="M456.4 197.0L459.8 194.2L462.5 191.5L465.3 190.8L466.3 194.2L464.6 197.6L461.9 199.7L458.4 200.1L456.4 199.0Z" fill="#9664ff" stroke="#9664ff" stroke-width="1.2" stroke-linejoin="round"/>
<path class="grid" d="M149.35 31.5V414.5M213.19 31.5V414.5M277.02 31.5V414.5M340.86 31.5V414.5M404.69 31.5V414.5M85.5 349.75H468.5M85.5 285.90H468.5M85.5 222.05H468.5M85.5 158.20H468.5M85.5 94.35H468.5"/>
<path class="coast" d="M217.0 71.0L218.7 69.6L220.1 68.8L221.2 67.3L222.7 66.4L224.7 66.0L225.8 65.6L227.5 65.5L228.7 65.9L230.6 66.0L231.9 65.8L233.1 65.3L234.6 65.6L236.2 65.3L237.8 65.1L239.3 64.4L240.7 63.6L242.1 62.6L242.7 61.7L244.1 60.7L244.8 59.8L245.4 58.7L246.5 57.8L247.9 57.0L249.1 56.6L250.6 56.1L251.3 55.0L252.9 55.1L254.5 55.2L256.2 54.5L257.5 54.5L258.7 53.3L260.6 53.3L261.5 52.4L262.7 52.1L264.2 52.3L265.7 51.7L267.0 51.1L268.4 50.9L269.6 50.7L270.9 50.6L272.5 51.0L273.8 50.3L274.9 49.4L276.7 48.8L277.8 47.3L279.3 47.0L281.1 47.0L282.6 46.2L284.0 45.5L285.3 45.2L286.5 44.8L287.9 44.8L289.2 44.0M226.7 60.0L228.1 59.9L229.2 60.0L230.6 59.4L232.1 59.5L233.7 60.0L235.4 60.1L237.0 59.9L238.7 59.8L240.1 59.6L241.6 59.5L242.9 59.6L244.3 60.0M237.8 91.8L239.1 90.8L240.6 90.2L241.6 89.8L242.9 89.6L244.3 89.9L245.8 90.1L247.4 90.5L247.6 92.2L248.7 93.3L247.9 95.4L246.7 96.9L245.5 98.0L244.1 99.2L243.2 100.0L241.9 100.2L240.8 99.3L239.5 98.6L238.6 96.6L239.3 94.2L238.7 92.8L237.8 91.8M212.0 132.7L213.3 131.5L215.0 131.0L216.0 130.1L217.7 129.5L218.9 128.3L220.4 127.5L220.8 126.4L222.2 125.4L223.4 125.4L224.3 126.0L225.8 124.7L226.9 123.3L228.0 122.7L229.2 122.1L230.8 122.2L231.9 121.0L232.9 119.5L233.7 118.7L235.0 117.3L235.8 116.0L238.6 116.6L241.1 115.8L241.8 117.8L242.0 119.1L242.9 120.6L244.5 121.5L246.0 122.2L247.6 122.3L249.3 122.7L250.6 123.1L252.0 123.5L253.5 123.2L255.2 122.7L257.3 122.6L258.4 121.6L260.4 121.6L262.0 120.6L263.4 120.7L264.5 119.6L265.8 119.5L266.8 118.4L268.4 117.9L269.5 117.0L270.8 116.2L272.5 116.2L273.8 114.9L274.8 114.4L275.8 113.5L277.2 112.9L278.7 112.6L279.4 111.0L280.5 110.3L281.3 109.0L282.1 107.7L283.2 106.7L283.8 105.5L284.4 104.5L285.6 103.7L286.6 102.9L288.0 102.1L289.1 100.7M288.5 44.0L289.8 43.4L291.0 42.2L292.4 41.4L293.7 40.0L294.9 38.8L295.5 37.6L296.8 37.0L297.7 35.9L299.3 35.3L298.9 34.0L298.5 32.6L296.5 32.7L295.0 32.4L293.6 32.8L292.1 33.5L290.4 32.6L289.0 31.5M289.0 101.0L290.0 99.8L291.2 98.7L292.3 97.6L293.3 96.4L294.1 95.4L295.2 94.6L296.6 93.7L297.9 92.5L298.6 91.1L299.9 90.5L300.4 89.1L301.7 88.5L302.4 87.2L303.6 86.1L304.6 85.3L305.9 84.3L306.4 83.4L308.0 82.5L308.8 81.5L309.4 80.3L310.5 79.2L311.5 77.9L312.7 77.3L313.9 76.0L314.9 74.9L315.8 73.7L316.6 72.6L316.9 71.4L318.0 70.4L318.9 69.4L319.9 68.6L320.8 67.4L322.3 66.6L323.2 65.4L323.7 64.3L324.6 63.2L325.8 62.0L327.1 61.7L328.3 60.3L329.0 59.6L330.0 58.5L330.7 57.3L332.2 56.2L332.7 55.2L333.8 54.4L335.3 53.4L336.3 52.8L337.4 51.6L339.2 51.0L340.0 50.0L341.0 48.6L342.0 47.6L342.8 46.1L343.1 44.6L343.9 43.6L343.8 42.2L344.6 40.6L345.1 39.5L345.1 38.3L345.5 36.9L345.7 35.7L346.8 34.5L346.9 32.7L347.3 31.0M367.3 31.0L367.1 32.5L366.6 33.5L366.6 35.1L366.6 36.1L366.9 37.7L365.7 38.9L365.3 40.5L364.3 42.1L364.0 43.8L363.9 45.4L362.9 46.6L363.9 48.1L364.5 49.2L365.8 50.3L366.0 51.5L366.9 53.0L367.1 54.6L367.1 56.2L366.4 57.8L366.9 59.3L366.4 61.2L365.8 62.9L365.4 64.5L365.4 65.7L366.1 67.3L366.5 68.4L366.1 70.1L365.6 71.4L364.8 72.7L364.8 74.5L364.0 75.9L364.1 77.9L364.6 79.3L365.7 81.0L367.4 81.7L368.0 80.0L369.1 78.7L369.7 76.8L370.8 76.3L371.6 74.6L372.8 73.5L374.3 72.9L375.2 72.6L376.6 72.5L378.0 72.4L379.7 73.9L381.5 75.0L381.7 75.8L382.2 77.2L383.0 78.7L383.4 79.7L384.3 80.7L385.3 79.5L385.2 77.9L384.7 76.3L385.0 74.7L384.3 72.9L384.0 71.0L381.9 71.0L380.5 70.8L379.8 69.8L379.4 68.5L379.2 66.7L378.0 65.6L377.2 64.7L376.8 63.3L375.7 62.4L374.8 60.9L373.6 60.3L373.3 58.7L372.8 57.5L372.4 55.9L372.8 54.4L372.8 52.7L373.2 51.0L373.5 49.5L375.0 48.3L375.4 46.7L376.0 45.4L377.3 44.0L377.8 42.5L379.7 41.6L380.8 40.6L382.5 40.2L384.0 39.2L385.6 39.6L387.2 39.5L388.3 39.6L389.7 39.0L391.0 39.1M391.0 39.3L392.8 39.3L394.2 39.5L395.2 40.8L396.0 41.8L396.9 42.8L397.5 44.1L398.5 45.4L399.2 46.8L400.3 47.4M393.0 31.0L393.2 32.6L393.7 33.8L394.1 35.4L394.4 36.5L394.6 38.0L394.8 39.5M410.2 109.3L411.3 108.5L412.1 107.3L412.6 106.2L413.9 105.4L414.3 104.5L415.5 103.3L416.2 102.5L417.7 102.1L418.3 100.9L419.7 101.6L421.3 101.5L422.6 102.1L421.1 103.0L419.7 103.7L418.3 104.6L417.1 105.4L416.3 106.1L415.2 107.4L413.8 107.8L413.2 109.1L411.8 110.0L410.2 109.3M428.0 100.7L429.1 99.4L430.4 98.8L431.5 97.5L432.8 97.0L433.6 96.1L434.5 94.9L435.7 94.5L436.9 93.8L437.6 92.5L439.3 91.6L440.2 90.5L440.7 89.1L442.5 90.9L444.1 92.1L445.3 90.7L446.4 89.8L447.5 89.3L448.4 88.4L449.6 88.0L451.2 88.3L452.6 87.9L453.2 89.7L451.6 89.9L450.0 90.6L448.6 91.5L446.9 91.5L445.4 92.5L444.7 93.5L443.6 94.3L442.1 94.2L441.0 95.2L439.1 95.0L437.9 96.0L436.4 96.9L435.2 97.9L433.7 98.5L432.7 99.5L430.9 100.4L429.8 100.9L428.7 101.4L428.0 100.7M460.7 86.8L461.7 86.3L462.5 84.5L463.2 84.0L464.6 83.4L465.8 82.9L467.0 82.2L468.1 82.9L466.3 83.9L465.2 84.9L463.9 85.7L463.2 86.7L461.6 87.1L460.7 86.8M364.8 87.3L366.1 88.6L367.2 89.1L368.8 90.4L370.1 91.6L371.3 92.7L372.2 93.9L373.2 94.8L374.0 96.2L375.4 97.1L376.3 97.7L377.5 99.0L378.7 99.9L379.6 100.9L381.1 101.6L382.6 102.3L383.9 102.8L385.5 103.6L386.7 104.2L387.9 104.8L389.5 105.0L390.6 105.9L392.1 105.8L393.6 106.2L395.1 107.2L396.3 107.4L397.6 107.3L399.1 107.7L400.3 107.3L401.8 107.0L402.8 106.4L404.1 105.4L405.5 104.6L406.7 103.5L408.1 102.7L408.1 104.5L407.1 105.6L406.3 106.9L405.8 108.4L405.4 109.4L404.9 110.8L407.3 112.0L408.0 114.2L410.2 115.5L411.6 114.7L413.3 114.8L412.3 115.7L411.6 116.6L410.0 116.7L408.6 117.7L406.7 117.6L405.3 117.9L403.3 118.5L401.9 119.0L400.2 119.7L398.3 119.7L396.9 120.0L395.6 120.5L394.3 120.4L392.6 120.7L390.9 121.2L389.4 122.8L388.2 124.2L386.8 125.4L385.4 126.4L384.3 128.5L383.4 130.2L382.8 131.7L382.2 133.3L380.7 132.5L379.3 131.4L378.1 130.7L376.9 130.1L375.5 129.5L373.7 128.8L372.4 127.4L370.6 126.8L369.0 126.3L367.5 126.2L365.9 125.8L364.8 125.5L363.2 125.2L362.0 124.9L360.7 124.9L359.5 125.5L357.8 126.0L356.7 126.4L355.3 127.1L353.8 127.6L352.4 127.8L350.6 126.9L349.1 126.2L347.3 126.3L345.2 126.9L343.9 129.1L345.0 129.7L345.7 130.9L346.8 131.3L348.2 132.5L350.0 132.8L350.8 133.8L352.6 134.0L354.0 134.8L355.2 136.4L353.7 136.3L352.4 136.1L351.1 136.7L349.9 137.5L348.3 137.5L347.0 138.4L345.5 139.0L344.1 139.5L342.0 139.2L341.9 137.5L341.2 136.2L342.2 134.8L341.8 133.6L341.6 132.0L340.4 131.1L340.2 129.3L339.5 128.2L339.0 126.9L338.6 125.4L339.8 124.5L340.3 123.3L341.7 122.7L342.8 122.4L344.3 122.2L345.9 120.1L344.7 117.8L345.0 115.6L347.2 115.1L348.4 114.8L350.3 115.3L351.9 115.1L353.8 115.0L355.4 115.2L356.7 114.5L357.2 113.3L358.2 112.5L358.5 110.9L358.6 109.8L358.8 108.1L359.4 106.7L360.4 105.3L361.5 104.1L361.9 102.5L362.4 100.4L362.4 99.0L362.7 97.2L362.6 95.6L362.4 93.9L361.5 92.3L361.0 91.0L362.3 88.9L363.3 88.4L364.8 87.3M333.9 180.0L334.7 178.7L334.9 177.2L335.7 176.0L336.5 174.5L337.3 173.2L338.6 172.0L339.2 170.2L340.3 169.0L340.5 166.8L341.0 165.4L340.8 163.7L340.8 162.4L340.3 160.4L337.8 160.2L337.1 158.7L339.3 157.1L338.6 155.4L338.2 154.5L338.9 152.4L339.2 150.7L340.7 149.5L341.9 148.4L342.6 147.3L343.3 146.4L344.5 145.3L344.5 143.8L345.7 142.4L347.7 143.3L348.5 145.3L349.6 147.0L351.1 146.6L351.3 144.8L351.1 143.0L351.1 141.9L351.5 140.6L351.9 139.4L353.1 138.6L355.5 139.5L357.9 140.7L358.7 143.3L357.9 144.9L357.9 146.5L358.3 147.8L358.8 149.1L359.6 150.2L360.4 151.8L361.4 152.7L362.9 154.1L363.2 155.9L363.8 157.8L364.9 159.1L365.3 160.9L365.8 162.5L366.7 164.1L366.2 165.8L365.3 166.9L364.5 168.1L364.0 169.7L363.0 171.5L361.8 172.9L360.7 174.0L360.2 175.7L359.3 176.7L359.2 178.6L358.4 179.8M353.3 139.8L353.7 141.3L353.6 142.5L353.9 144.1L354.8 145.5L353.5 147.0L351.9 145.3L351.6 143.6L352.2 142.0L352.8 141.0L353.3 139.8M353.3 147.0L355.0 145.8L355.1 143.8L355.2 142.0L357.0 141.2M334.0 178.8L333.0 180.0L332.1 180.7L331.7 182.5L330.5 183.3L329.2 184.1L327.9 185.3L327.2 187.0L326.0 187.5L324.5 188.7L323.8 189.9L323.0 190.6L322.0 192.0L321.0 193.2L319.6 194.0L318.1 194.5L316.9 195.5L315.3 196.0L313.7 196.1L312.9 196.7L311.6 197.0L310.3 197.2L309.1 197.6L307.3 198.6L305.7 199.6L303.2 199.5L302.6 198.2L301.3 197.1L301.7 195.9L302.3 194.7L303.5 193.1L304.7 192.3L306.3 190.6L304.2 190.2L302.4 190.9L300.7 191.2L299.4 192.6L298.0 193.9L298.8 195.6L299.0 197.4L298.1 198.6L297.6 200.8L296.6 201.8L295.9 202.9L294.9 203.9L293.8 205.1L292.4 205.3L291.5 206.2L290.3 207.9L289.1 208.9M317.3 184.7L317.8 183.0L319.0 181.5L319.8 180.3L320.9 179.7L321.8 182.3L321.2 183.6L320.4 185.1L318.4 186.7L317.3 184.7M352.2 180.0L352.4 181.4L352.3 182.9L352.8 184.4L353.2 186.3L353.6 187.7L353.6 189.4L352.9 191.0L353.1 192.7L352.9 194.4L352.6 195.9L351.7 197.4L350.9 198.2L349.9 199.3L349.2 201.5L348.6 203.2L347.9 204.6L347.0 206.6L347.7 208.7L349.5 210.7L351.5 212.4L349.3 213.4L347.4 214.1L346.4 215.7L346.5 217.3L344.9 219.1L342.8 219.8L340.8 221.2L339.1 222.6L337.8 222.7L336.6 221.6L337.5 219.1L339.1 217.5L340.1 214.7L340.1 213.1L337.6 213.7L336.7 215.5L335.4 217.9L336.1 219.9L337.0 221.5M335.6 217.8L334.0 217.2L331.8 218.7L330.2 220.1L328.7 222.3L327.4 224.3L326.2 226.7L325.3 227.4L323.9 225.5L323.9 223.1L323.1 221.4L321.3 221.9L320.1 223.2M358.3 180.0L356.3 181.0L353.6 181.3L352.2 180.7M256.7 216.4L258.1 215.7L260.1 215.4L261.6 215.2L262.9 214.5L264.5 214.7L266.2 214.5L267.2 213.8L268.8 213.8L270.4 212.9L272.1 213.3L273.3 213.2L274.4 212.3L275.8 212.8L277.0 212.0L278.9 212.9L280.0 214.8L282.5 215.5L283.7 215.0L285.1 215.2L286.5 214.5L287.7 214.0L289.3 212.2L289.0 209.8L289.9 207.9L291.2 206.5L292.3 205.5L293.0 204.4L294.4 203.6L295.4 202.1L296.3 201.1L297.7 199.6L299.4 197.7M287.6 221.7L288.3 220.2L289.1 219.1L289.9 217.7L290.7 217.0L292.3 216.6L292.0 218.0L291.1 218.7L289.9 219.6L288.8 221.7L287.6 221.7M260.0 229.1L261.4 228.3L263.1 227.6L264.5 227.1L266.2 226.6L267.3 225.6L268.7 225.2L270.3 224.7L271.8 224.9L274.1 224.7L276.7 225.6L278.5 226.0L280.0 226.1L282.1 226.7L281.5 228.3L280.2 229.1L279.1 229.7L278.5 231.2L277.5 232.7L277.3 234.3L277.4 235.4L278.6 236.4L279.3 237.4L280.1 238.4L280.8 239.5L282.3 240.6L283.4 241.0L284.7 241.2L286.1 241.8L287.0 241.0L288.2 240.3L289.0 239.2L290.3 238.0L291.0 236.2L292.0 234.9L292.7 233.8L293.1 232.5L295.4 231.6L297.1 231.6L298.2 231.0L300.1 229.7L299.0 228.4L296.9 227.3L295.9 225.0L297.4 224.0L297.9 222.7L299.4 221.1L300.1 223.4L300.9 225.1L301.8 226.2L302.9 226.5L304.5 226.1L305.8 226.0L307.4 225.5L308.7 225.9L310.0 226.1L311.6 226.0L313.3 226.0L314.9 226.4L316.7 226.4L317.7 226.0L318.7 224.8L319.1 223.5L320.4 222.2L322.2 220.7L323.8 222.4L324.4 223.4L324.3 225.1L325.4 226.7L327.1 226.0L328.1 224.9L330.1 225.4M274.2 225.1L275.1 226.8L273.7 229.0L272.9 231.4L271.4 233.4L272.1 235.8L271.3 237.8L269.8 238.6L268.6 239.4L267.6 240.0L266.6 241.2L266.2 243.0L265.6 244.3L264.1 243.5L262.8 242.8L261.7 241.7L260.1 241.7M263.9 227.2L266.3 226.2L267.7 226.9L269.0 226.9L270.8 227.2L269.1 228.0L267.8 228.1L266.3 228.1L264.7 228.1L263.9 227.2M215.1 258.7L214.6 260.6L214.7 261.8L214.9 263.3L214.7 264.4L214.6 265.8L215.2 268.1M224.7 235.1L224.0 234.0L223.6 232.8L224.2 230.4L226.2 229.4L228.7 229.1L230.0 228.0L230.9 227.0L232.4 226.3L233.8 225.7L234.6 225.0L235.9 224.3L236.7 223.3L237.9 222.3L238.8 221.7L240.3 221.2L241.4 220.5L242.8 219.8L243.7 219.3L244.5 218.2L245.9 217.2L247.8 216.2L248.9 215.5L250.1 215.6L252.0 215.7L253.8 215.4L254.9 215.3L256.7 216.0M226.0 234.3L227.4 234.0L228.4 233.4L229.9 234.4L231.3 234.0L232.9 234.9L234.9 234.5L236.4 234.7L238.0 235.2L239.2 235.5L240.6 235.2L242.1 234.1L241.3 231.4L242.6 230.6L243.8 231.3L244.3 232.8L244.8 233.5L246.7 232.5L248.4 232.4L250.0 231.8L250.9 230.8L252.4 230.1L254.2 230.0L255.7 229.0L257.5 228.5L258.9 228.5L260.8 228.4L262.1 227.5L263.2 226.9L264.8 226.6L265.7 225.8M266.0 243.2L264.9 242.8L263.3 242.3L261.3 240.9L260.0 241.0L258.5 240.8L256.2 241.9L255.1 242.7L254.4 243.9L253.2 244.7L252.3 246.0L252.0 247.7L251.4 249.1L250.0 250.2L248.6 249.1L246.2 249.0L244.9 247.1L245.0 245.5L244.3 244.5L244.2 242.0L242.7 241.0L240.8 241.5L238.6 243.0L240.8 241.7L243.0 241.0L243.4 239.8L244.7 238.7L246.4 237.0L248.7 236.5L249.9 236.3L251.1 235.6L252.9 233.9L255.3 234.6L256.7 232.4L258.5 231.2L260.9 231.1L263.0 230.0L265.0 229.5L265.9 228.9M217.6 280.9L218.2 279.8L219.4 279.0L220.6 280.2L220.4 281.4L219.8 282.4L218.2 282.3L217.6 280.9M212.0 133.0L211.2 134.3L210.2 135.2L209.8 136.7L209.1 138.0L208.5 139.3L207.4 140.5L208.3 141.8L208.4 143.2L209.4 144.7L208.0 145.7L207.4 147.2L205.6 147.6L204.0 148.9L203.1 150.0L201.4 150.6L200.6 151.5L199.4 152.2L197.6 153.0L196.8 153.7L195.1 154.4L194.1 155.1L192.6 155.8L191.4 156.5L190.2 157.3L188.5 157.5L186.8 157.4L185.8 157.8L184.8 159.0L183.4 160.1L182.1 160.7L180.9 161.6L180.3 163.0L179.6 164.6L179.1 165.6L178.8 167.0L179.5 168.0L181.0 168.7L182.0 169.9L183.5 170.4L184.5 171.0L186.0 172.1L186.8 173.0L188.7 174.1L190.6 174.6L191.2 175.5L192.1 177.0L192.8 178.1L193.4 179.2L194.2 180.4L194.8 182.0L195.6 182.7L195.9 184.5L197.3 185.3L197.8 187.0L199.1 188.0L199.3 189.3L200.4 190.6L201.4 191.7L201.8 192.9L202.8 194.1L203.6 195.6L204.0 196.5L204.4 198.0L205.0 199.6L205.3 201.5L206.0 203.1L205.2 204.4L205.2 205.7L205.0 207.3L205.9 208.5L206.9 209.6L206.1 211.1L205.8 213.1L205.0 214.6L204.0 216.3M212.0 133.0L212.3 132.7M85.0 188.8L86.6 187.9L88.2 187.2L89.7 186.9L91.0 186.3L92.2 186.0L94.1 186.0L95.3 186.1L96.9 186.3L98.2 187.0L99.9 188.0L100.7 189.0L102.4 189.6L103.3 190.6L104.6 190.9L106.3 191.1L107.5 190.6L108.8 190.7L110.2 190.7L111.9 190.6L113.2 191.1L114.6 190.9L115.8 191.6L117.4 191.6L119.0 191.9L118.4 192.6L117.6 193.6L117.2 195.7L116.8 197.3L115.3 197.4L114.3 197.9L112.6 198.3L111.3 198.2L109.8 198.9L108.2 199.1L106.8 199.7L104.9 199.4L103.6 200.0L102.3 200.4L100.8 201.5L99.4 201.6L98.0 201.9L96.7 201.9L95.7 203.2L94.0 204.1L92.6 204.9L91.7 206.7L90.2 207.0L88.4 206.9L87.2 208.0L86.2 209.1L85.4 209.7M85.0 206.3L86.5 207.9L87.3 210.0L85.8 210.6M85.0 229.7L86.4 230.2L87.8 231.1L87.9 233.0L88.7 235.0M88.3 235.0L89.1 236.3L89.8 237.7L91.0 239.3L91.9 240.3L92.3 241.8L93.7 243.3L93.8 244.5L95.3 245.4L96.0 246.4L96.6 247.6L96.7 249.2L97.1 250.5L97.3 251.8L98.5 252.4L100.0 253.3L100.6 254.2L101.6 255.4L102.9 256.5L104.2 257.3L105.2 258.6L106.4 259.9L107.4 261.1L108.3 262.7L109.3 264.3L108.5 265.5L108.6 266.8L106.9 266.3L105.0 265.9L103.4 265.5L101.7 264.1L100.5 262.9L99.2 262.2L97.3 261.8L95.8 261.2L94.2 260.1L92.3 259.5L91.2 259.0L89.6 260.0L88.3 260.0L86.6 261.0L85.1 261.7M100.0 263.7L101.4 263.4L102.9 263.2L104.2 263.1L105.4 264.2L106.9 264.8L108.4 265.1L106.7 266.6L105.4 266.0L103.8 265.7L102.5 266.2L101.1 264.7L100.0 263.7M101.7 264.7L102.4 265.8L103.8 266.7L104.7 267.7L105.5 268.7L106.3 269.9L107.7 270.6L108.1 272.3L109.1 273.9L108.2 275.2L106.9 276.0L105.4 275.3L103.8 275.0L102.4 274.6L101.1 275.8L99.8 276.4L98.9 278.1L97.6 279.0L96.6 280.2L94.8 280.8L93.6 281.0L92.5 281.7L90.8 281.5L89.3 282.5L87.8 283.5L86.3 284.0L85.0 284.3M85.8 266.7L87.3 266.3L88.4 265.8L88.9 267.3L89.9 268.5L90.5 269.9L92.0 271.8L90.4 272.7L89.1 273.9L87.9 273.9L86.8 273.6L86.2 272.0L85.7 270.8L86.2 269.7L85.7 268.3L85.8 266.7M163.3 242.5L165.0 241.3L166.6 240.5L168.2 240.9L169.4 240.4L171.1 240.5L172.1 241.0L173.3 241.2L172.4 243.2L170.8 244.0L169.3 244.5L167.4 245.1L165.7 245.0L163.7 244.5L163.3 242.5M85.8 369.2L86.6 367.8L86.6 366.2L87.4 364.6L87.4 363.4L87.9 362.2L89.0 360.7L89.2 359.4L89.9 358.0L90.8 357.2L91.3 355.8L92.7 354.9L93.4 353.4L94.4 352.2L95.3 351.0L96.1 350.1L97.5 349.4L98.7 348.1L100.1 347.7L101.8 346.8L103.3 345.9L104.9 345.4L106.6 346.7L108.5 347.5L109.4 348.6L109.9 349.8L109.2 351.2L108.6 352.9L109.7 354.1L109.8 355.7L108.9 356.5L107.9 358.0L107.6 359.3L106.8 360.6L106.0 361.6L105.5 363.0L105.6 364.7L104.7 365.9L104.7 367.6L103.8 368.7L103.4 370.6L102.4 371.6L101.7 373.4L101.4 374.8L100.6 375.7L100.1 377.1L99.1 378.1L98.3 379.8L97.6 381.2L97.2 382.8L96.2 384.0L96.4 385.4L95.7 386.4L95.6 388.2L94.9 389.3L93.1 388.3L93.1 386.8L92.2 384.8L91.3 383.9L90.8 382.5L89.9 382.0L89.5 380.1L88.2 378.9L87.2 377.6L87.2 376.0L86.6 374.8L86.2 373.6L86.2 372.0L85.9 370.7L85.8 369.2M85.0 327.5L85.9 326.1L87.0 325.0L88.5 324.5L89.7 323.3L90.5 322.5L91.6 321.2L92.5 320.1"/><path class="coast" style="stroke-width:1.7" d="M209.1 242.1L211.2 241.3L213.3 240.5L214.8 240.3L216.1 239.2L217.2 238.4L218.7 237.5L219.4 236.4L221.1 236.5L222.9 236.2L224.5 235.6L226.0 235.5L226.2 237.8L227.2 239.1L229.7 238.9L231.6 239.1L233.3 239.5L234.4 241.8L232.3 242.7L233.8 244.2L236.1 244.5L237.2 246.9L237.3 248.6L236.8 249.9L236.2 251.2L235.5 251.9L234.5 253.1L234.4 254.8L234.1 256.2L233.1 257.0L232.4 258.4L231.8 260.0L231.7 262.1L231.6 262.8L230.8 264.2L229.6 266.5L227.9 267.6L226.6 268.9L225.1 270.3L223.3 271.7L222.2 272.6L221.4 272.9L220.5 271.4L219.5 270.2L218.6 269.8L216.9 269.5L215.2 268.8L214.5 267.7L216.1 266.0L215.6 263.0L214.2 260.8L214.0 259.2L212.8 257.3M85.0 157.2L86.3 155.9L87.5 155.5L89.5 155.7L90.2 154.3L90.8 152.8L92.6 151.8L93.8 150.9L94.4 150.1L96.4 149.0L96.5 148.2L98.1 147.4L99.5 147.0L100.6 146.4L101.5 146.1L103.6 145.2L104.5 146.6L106.1 146.8L107.9 145.7L108.7 144.7L108.8 146.9L111.0 148.3L112.1 149.3L113.0 151.5L112.5 153.0L111.4 152.9L110.8 154.5L109.9 156.3L107.8 156.7L107.5 158.7L105.2 159.3L104.7 159.8L102.8 160.8L102.4 163.2L101.4 165.1L103.0 165.1L104.0 165.0L105.0 165.6L107.3 165.0L107.9 166.6L106.1 166.5L104.4 167.1L106.6 168.0L107.9 169.0L105.7 169.2L104.6 169.4L103.6 170.0L101.7 171.6L100.4 171.8L99.3 172.0L98.4 174.2L100.0 173.2L101.2 172.6L103.3 172.9L104.6 172.6L105.4 172.3L106.2 170.6L108.1 169.9L108.6 169.2L109.2 168.5L111.2 168.0L112.4 166.9L113.8 166.5L114.1 165.7L115.6 164.3L116.3 164.1L118.1 164.3L119.4 163.6L120.4 162.8L121.9 162.1L122.9 161.5L125.2 161.4L126.1 160.5L128.4 160.1L130.1 159.8L131.7 159.2L133.0 159.1L134.8 159.8L136.1 159.5L137.6 159.3L139.1 158.8L140.8 160.4L142.8 160.7L144.1 161.0L145.5 161.1L147.4 161.0L148.6 161.9L149.2 162.0L151.5 161.7L152.7 162.9L153.3 163.3L155.0 163.8L153.8 164.5L153.7 166.5L153.2 167.5L153.0 169.1L152.9 170.2L151.6 171.9L151.8 174.1L152.9 174.4L154.8 174.1L155.9 174.2L153.8 175.4L152.5 176.0L151.2 175.8L149.6 177.6L148.3 177.5L147.8 180.3L146.4 181.5L144.7 181.1L146.6 182.2L147.5 181.9L149.4 183.3L150.2 183.8L151.1 185.7L153.0 186.3L155.3 185.8L156.0 185.0L157.4 183.8L159.0 184.1L160.6 183.8L162.0 184.7L163.2 184.8L164.5 185.1L165.4 186.2L167.1 186.4L168.0 186.2L169.6 186.4L170.4 188.8L172.2 189.5L171.8 191.5L171.3 192.1L170.7 193.4L171.3 196.1L172.2 197.0L171.5 196.9L170.0 198.3L168.1 198.7L166.6 198.1L165.8 198.3L164.1 199.2L162.9 200.4L165.0 201.8L166.0 203.0L166.3 204.6L167.6 205.3L168.7 206.0L169.1 207.6L171.3 207.6L171.6 208.1L170.6 210.7L170.6 212.4L169.0 213.2L167.5 214.4L166.8 216.3L166.7 217.7L166.0 219.1L166.2 221.0L166.7 221.9L166.5 223.5L166.4 225.7L164.9 226.8L163.9 228.3L162.6 229.5L164.9 230.5L166.5 230.3L167.7 228.6L168.9 227.2L170.7 227.8L171.8 228.1L173.2 227.4L174.2 227.0L175.4 226.3L177.1 226.1L178.3 224.9L180.2 224.3L180.8 223.9L182.5 223.6L183.3 223.2L185.3 222.6L187.2 222.8M203.7 216.3L203.1 217.6L202.5 218.8L201.9 219.7L200.2 220.2L198.2 220.5L197.0 221.2L195.8 221.9L194.5 221.8L192.5 222.6L191.5 224.3L189.5 223.2L188.5 223.8L186.7 222.5L185.1 222.8M92.5 281.3L92.5 282.8L94.1 284.2L95.9 284.6L97.6 283.2L99.5 282.1L101.4 282.2L103.2 281.4L104.2 282.6L105.4 283.8L105.9 285.4L108.7 283.8L109.7 283.8L111.6 283.5L111.9 283.3L113.5 284.1L115.1 285.7L112.7 286.1L110.6 288.1L110.1 289.0L109.7 291.3L109.5 292.5L109.1 293.8L107.1 293.4L105.8 292.7L105.5 294.2L107.6 296.0L105.0 297.5L105.4 299.2L105.0 300.2L107.0 301.3L105.6 302.9L104.1 304.1L104.5 304.8L105.3 306.3L103.3 307.3L102.1 308.2L101.7 308.9L100.7 309.0L99.1 308.6L99.5 310.0L101.5 310.5L98.9 311.6L97.3 311.1L96.4 311.0L94.6 311.1L92.9 312.2L93.1 314.3L93.7 314.7L92.8 314.9L92.3 316.9L91.8 318.7L90.8 319.6L89.8 321.8L88.8 322.5L87.4 323.8L88.2 326.0L86.6 326.4L85.8 327.9L84.8 329.8L85.3 331.6"/><path class="isl" d="M137.7 91.0L139.2 89.5L140.7 91.0L139.2 92.5ZM170.1 112.2L171.7 110.6L173.3 112.2L171.7 113.8ZM145.6 117.2L146.8 116.0L148.0 117.2L146.8 118.4ZM196.2 110.2L198.7 106.8L199.7 108.5L197.8 110.7ZM234.5 117.7L236.7 115.7L237.8 117.7L235.7 119.7ZM424.0 108.7L426.7 107.3L428.7 109.0L426.3 111.0ZM354.5 91.0L356.1 90.6L356.7 92.0L355.3 92.8ZM331.7 130.5L333.2 129.0L334.7 130.5L333.2 132.0ZM342.8 207.8L346.1 208.3L346.7 210.0L345.0 209.1ZM204.0 244.7L204.9 242.7L206.9 242.1L208.5 242.7L209.8 241.1L211.8 240.3L212.3 241.4L211.2 242.7L210.8 244.3L212.5 246.0L213.4 247.6L212.8 249.9L211.8 250.9L211.8 252.5L209.5 253.2L208.9 250.9L208.2 248.6L206.9 246.6L205.3 245.6ZM214.1 246.0L216.1 244.7L218.3 244.0L219.1 246.0L220.3 248.3L221.1 250.9L220.8 253.8L219.6 256.1L218.0 257.7L216.1 258.7L213.8 258.8L212.1 257.7L212.3 256.1L213.8 254.5L215.4 253.8L216.1 252.2L215.4 250.2L214.4 248.3ZM219.5 264.6L221.0 263.3L222.6 264.3L222.8 267.2L221.3 268.0L219.8 267.2ZM201.4 232.9L202.4 229.3L203.7 226.9L205.6 225.2L206.9 226.2L205.8 229.3L204.7 231.8L203.3 233.6ZM207.1 237.3L208.5 235.9L209.9 237.3L208.5 238.7ZM198.7 249.1L200.0 245.6L202.0 246.2L201.6 249.3L199.8 250.4ZM193.1 251.6L195.8 249.8L198.2 250.4L197.3 252.9L194.4 253.8ZM224.1 281.0L225.2 276.0L226.3 275.4L225.8 278.8L224.9 281.6ZM147.5 151.0L152.5 149.3L153.3 150.2L149.2 152.2ZM192.2 221.8L194.2 220.7L195.8 222.2L195.0 224.3L192.8 224.0ZM163.6 227.6L165.3 225.9L167.0 227.6L165.3 229.3ZM162.8 229.0L164.0 227.8L165.2 229.0L164.0 230.2ZM179.8 225.1L181.1 223.8L182.4 225.1L181.1 226.4ZM175.5 226.6L176.7 225.4L177.9 226.6L176.7 227.8ZM184.5 223.5L185.5 222.5L186.5 223.5L185.5 224.5ZM93.3 268.0L94.2 267.1L95.1 268.0L94.2 268.9ZM131.3 358.7L133.3 357.0L135.3 357.7L135.0 359.3L132.5 360.0ZM137.0 357.5L138.7 355.0L140.3 354.7L139.7 357.5L138.0 358.7ZM151.0 350.8L153.0 350.8L154.7 353.3L151.7 353.3ZM201.7 308.3L205.0 305.8L208.7 304.7L208.0 307.0L205.3 309.2L203.3 310.3ZM197.4 314.2L198.7 312.9L200.0 314.2L198.7 315.5ZM252.4 205.8L254.2 204.0L256.0 205.8L254.2 207.6ZM252.1 215.3L253.5 213.9L254.9 215.3L253.5 216.7ZM182.5 334.2L184.2 330.0L186.7 327.5L190.8 325.8L191.3 327.5L188.3 330.0L185.8 333.0L183.7 335.8Z"/><path d="M208.5 244.0L210.2 243.4L210.4 245.1L209.1 245.5ZM209.2 247.6L211.2 247.0L211.8 248.9L210.8 250.5L209.5 249.9ZM215.9 246.6L217.7 247.1L218.3 249.2L217.4 250.9L216.0 250.1ZM213.0 254.7L214.8 254.1L215.5 255.8L214.3 257.2L212.8 256.5Z" fill="#ffe8ba"/>
</g>
<rect class="fr" x="85.5" y="31.5" width="383.0" height="383.0"/>
<text class="tk m" x="149.7" y="424.7" textLength="22.5" lengthAdjust="spacingAndGlyphs">125°E</text>
<text class="tk m" x="213.5" y="424.7" textLength="22.5" lengthAdjust="spacingAndGlyphs">130°E</text>
<text class="tk m" x="277.3" y="424.7" textLength="22.5" lengthAdjust="spacingAndGlyphs">135°E</text>
<text class="tk m" x="341.2" y="424.7" textLength="22.5" lengthAdjust="spacingAndGlyphs">140°E</text>
<text class="tk m" x="405.0" y="424.7" textLength="22.5" lengthAdjust="spacingAndGlyphs">145°E</text>
<text class="tk e" x="80.5" y="352.1" textLength="18.5" lengthAdjust="spacingAndGlyphs">25°N</text>
<text class="tk e" x="80.5" y="288.3" textLength="18.5" lengthAdjust="spacingAndGlyphs">30°N</text>
<text class="tk e" x="80.5" y="224.4" textLength="18.5" lengthAdjust="spacingAndGlyphs">35°N</text>
<text class="tk e" x="80.5" y="160.6" textLength="18.5" lengthAdjust="spacingAndGlyphs">40°N</text>
<text class="tk e" x="80.5" y="96.8" textLength="18.5" lengthAdjust="spacingAndGlyphs">45°N</text>
<text class="t12 m ttl" x="276.5" y="25">GSMAP_NRT_1HR estimates for 20251227 21</text>
<defs><clipPath id="clip2"><rect x="555.5" y="31.5" width="383.0" height="383.0"/></clipPath></defs>
<rect x="555.5" y="31.5" width="383.0" height="383.0" fill="#fff"/>
<g clip-path="url(#clip2)">
<path d="M810.0 91.1L817.8 89.3L827.8 88.9L833.3 88.4L838.9 90.0L846.7 92.9L855.6 93.8L864.4 92.2L873.3 92.2L884.4 93.8L893.3 96.0L898.9 100.0L903.3 105.6L904.9 113.3L904.9 124.4L903.3 132.2L900.0 137.3L895.6 142.2L888.9 145.6L881.1 147.8L873.3 147.8L864.4 147.8L856.7 147.8L851.1 150.0L847.8 153.3L846.7 157.8L848.9 162.2L853.3 166.7L856.7 173.3L857.8 182.2L856.7 191.1L853.3 197.8L848.9 203.3L845.6 208.9L843.3 216.0L842.0 228.4L833.5 233.1L825.7 239.4L819.4 244.1L810.0 247.3L800.6 249.8L791.2 249.8L781.8 249.8L775.5 253.5L769.2 258.2L762.9 264.5L756.7 269.2L744.1 270.2L730.7 270.6L726.0 273.8L726.0 281.6L724.4 289.5L719.7 295.7L713.4 300.4L708.7 306.7L707.2 314.5L704.0 322.4L697.7 327.1L689.9 331.8L683.6 336.5L681.1 342.8L678.9 350.6L674.2 355.3L666.4 358.5L655.4 360.0L644.4 360.0L637.2 361.6L635.9 367.9L633.4 375.7L627.2 380.4L619.3 383.6L609.9 383.6L600.5 381.4L592.6 377.3L586.4 372.0L581.7 364.7L579.5 356.9L578.5 349.1L580.7 342.8L584.8 337.5L591.1 333.4L598.9 331.2L608.3 330.2L616.2 331.2L622.5 328.7L627.8 322.4L633.4 316.1L639.7 311.4L644.4 305.1L645.4 295.7L649.1 289.5L654.8 283.2L660.1 276.9L663.2 269.1L663.2 259.6L658.5 254.9L655.6 249.3L655.6 242.7L655.0 236.0L655.6 231.6L659.4 228.2L663.9 225.4L666.7 222.7L670.0 219.9L674.4 217.7L678.9 214.9L682.8 212.7L685.6 209.3L688.9 204.9L692.2 200.4L694.4 196.0L697.1 197.1L703.3 192.4L711.2 187.6L720.6 185.1L730.0 184.5L741.0 182.9L750.4 179.8L758.2 173.5L767.6 165.7L773.9 157.8L775.5 150.0L780.0 146.7L781.1 145.6L783.3 141.1L782.2 135.6L783.3 127.8L785.6 120.0L786.2 112.2L788.9 105.6L794.4 100.0L802.2 94.4Z" fill="#ffe8ba" stroke="#ffe8ba" stroke-width="1.2" stroke-linejoin="round"/><path d="M833.3 89.3L838.2 93.3L844.4 97.8L850.0 102.2L853.3 107.8L852.2 113.3L846.7 116.7L840.0 118.9L835.6 122.2L834.4 126.7L836.7 131.1L838.9 135.6L842.2 138.9L846.7 142.2L851.1 146.7L856.7 147.8L864.4 147.8L873.3 147.8L881.1 147.8L888.9 145.6L895.6 142.2L900.0 137.3L901.1 133.3L891.1 131.1L880.0 130.0L868.9 130.0L856.7 132.2L853.3 135.6L848.9 138.2L843.3 138.2L838.2 140.4L836.7 146.7L833.3 146.7L824.4 144.4L813.3 144.4L804.4 140.0L805.6 134.4L806.7 127.8L810.0 122.2L813.3 117.8L815.6 113.3L820.0 110.0L822.2 104.4L821.1 98.9L823.3 93.8L827.8 90.7Z" fill="#d2ffc8" stroke="#d2ffc8" stroke-width="1.2" stroke-linejoin="round"/><path d="M803.8 128.5L803.1 135.9L801.6 140.3L797.2 142.5L792.1 144.7L786.9 146.9L784.0 150.6L784.7 155.0L786.9 158.7L787.6 163.1L790.6 166.8L793.5 169.7L794.3 173.4L792.1 177.1L787.6 180.0L784.7 182.9L783.2 186.6L781.8 190.3L778.8 192.5L776.6 195.4L777.4 199.1L776.6 202.1L778.8 205.0L781.8 205.7L782.5 203.5L784.7 200.6L789.1 200.3L793.5 201.3L797.9 200.6L801.6 199.1L806.0 196.9L809.7 195.4L812.6 193.2L815.6 191.8L820.7 190.3L822.9 188.1L826.6 188.8L831.0 188.1L834.7 186.6L836.9 183.7L837.6 180.0L839.1 174.1L836.9 170.4L834.7 167.5L830.3 165.3L826.6 163.5L824.4 161.6L825.1 158.7L828.1 156.5L831.8 155.0L834.7 152.1L835.4 148.4L832.5 146.2L831.8 142.5L833.2 138.8L839.1 137.4L846.5 138.8L849.4 135.9L852.4 130.0L852.4 128.5Z" fill="#d2ffc8" stroke="#d2ffc8" stroke-width="1.2" stroke-linejoin="round"/><path d="M704.9 193.9L717.5 190.2L731.6 189.2L741.0 192.4L744.1 200.2L753.5 201.8L761.4 208.0L766.7 214.3L762.9 220.6L755.1 223.7L747.3 222.2L739.4 217.5L730.0 215.9L722.2 217.5L715.9 222.2L709.6 227.8L701.8 232.2L693.9 233.1L689.2 228.4L692.4 222.2L698.6 217.5L701.8 211.2L700.2 203.3Z" fill="#d2ffc8" stroke="#d2ffc8" stroke-width="1.2" stroke-linejoin="round"/><path d="M758.2 200.2L766.1 197.1L775.5 190.8L784.3 182.9L793.4 175.1L790.5 167.3L786.8 158.8L786.8 146.9L828.8 146.9L825.7 150.0L821.0 159.4L821.0 168.8L816.3 178.2L808.4 187.6L800.6 193.9L792.7 198.6L784.9 201.8L775.5 203.3L767.6 208.0L761.4 208.0Z" fill="#d2ffc8" stroke="#d2ffc8" stroke-width="1.2" stroke-linejoin="round"/><path d="M734.7 244.1L741.0 241.0L748.8 244.1L752.0 253.5L753.5 262.9L748.8 267.6L742.5 264.5L737.8 258.2L734.7 250.4Z" fill="#d2ffc8" stroke="#d2ffc8" stroke-width="1.2" stroke-linejoin="round"/><path d="M701.8 275.5L708.0 271.7L717.5 270.8L724.7 273.9L725.3 281.8L720.6 286.5L711.2 286.5L703.3 284.3Z" fill="#d2ffc8" stroke="#d2ffc8" stroke-width="1.2" stroke-linejoin="round"/><path d="M689.2 288.0L688.6 289.9L687.0 291.0L685.1 291.0L683.5 289.9L682.9 288.0L683.5 286.2L685.1 285.1L687.0 285.1L688.6 286.2Z" fill="#d2ffc8" stroke="#d2ffc8" stroke-width="1.2" stroke-linejoin="round"/><path d="M696.4 295.9L696.0 297.4L694.7 298.3L693.1 298.3L691.9 297.4L691.4 295.9L691.9 294.4L693.1 293.5L694.7 293.5L696.0 294.4Z" fill="#d2ffc8" stroke="#d2ffc8" stroke-width="1.2" stroke-linejoin="round"/><path d="M672.6 293.7L672.2 295.0L671.1 295.8L669.7 295.8L668.6 295.0L668.2 293.7L668.6 292.4L669.7 291.6L671.1 291.6L672.2 292.4Z" fill="#d2ffc8" stroke="#d2ffc8" stroke-width="1.2" stroke-linejoin="round"/><path d="M717.5 236.3L725.3 234.7L728.4 241.0L725.3 250.4L720.6 248.8Z" fill="#d2ffc8" stroke="#d2ffc8" stroke-width="1.2" stroke-linejoin="round"/><path d="M666.0 244.1L671.0 243.5L671.6 248.2L666.6 248.8Z" fill="#d2ffc8" stroke="#d2ffc8" stroke-width="1.2" stroke-linejoin="round"/><path d="M586.4 353.8L591.1 349.1L600.5 347.5L609.9 350.0L617.7 352.2L627.2 350.6L635.0 352.2L637.2 356.9L630.3 360.0L622.5 361.6L617.7 366.3L614.6 372.0L606.8 374.2L597.4 374.2L589.5 371.0L585.7 363.2Z" fill="#d2ffc8" stroke="#d2ffc8" stroke-width="1.2" stroke-linejoin="round"/><path d="M649.7 319.3L649.0 321.5L647.1 322.8L644.8 322.8L642.9 321.5L642.2 319.3L642.9 317.0L644.8 315.7L647.1 315.7L649.0 317.0Z" fill="#d2ffc8" stroke="#d2ffc8" stroke-width="1.2" stroke-linejoin="round"/><path d="M661.7 322.4L661.1 324.2L659.5 325.4L657.6 325.4L656.0 324.2L655.4 322.4L656.0 320.5L657.6 319.4L659.5 319.4L661.1 320.5Z" fill="#d2ffc8" stroke="#d2ffc8" stroke-width="1.2" stroke-linejoin="round"/><path d="M672.0 294.2L671.5 295.6L670.3 296.5L668.7 296.5L667.5 295.6L667.0 294.2L667.5 292.7L668.7 291.8L670.3 291.8L671.5 292.7Z" fill="#d2ffc8" stroke="#d2ffc8" stroke-width="1.2" stroke-linejoin="round"/><path d="M689.9 289.5L689.3 291.3L687.7 292.4L685.8 292.4L684.2 291.3L683.6 289.5L684.2 287.6L685.8 286.5L687.7 286.5L689.3 287.6Z" fill="#d2ffc8" stroke="#d2ffc8" stroke-width="1.2" stroke-linejoin="round"/><path d="M695.5 297.3L695.1 298.8L693.8 299.7L692.3 299.7L691.0 298.8L690.5 297.3L691.0 295.8L692.3 294.9L693.8 294.9L695.1 295.8Z" fill="#d2ffc8" stroke="#d2ffc8" stroke-width="1.2" stroke-linejoin="round"/><path d="M638.8 344.4L638.0 346.6L636.2 347.9L633.8 347.9L632.0 346.6L631.2 344.4L632.0 342.1L633.8 340.8L636.2 340.8L638.0 342.1Z" fill="#d2ffc8" stroke="#d2ffc8" stroke-width="1.2" stroke-linejoin="round"/><path d="M653.8 357.5L653.4 358.8L652.3 359.6L650.9 359.6L649.9 358.8L649.4 357.5L649.9 356.2L650.9 355.4L652.3 355.4L653.4 356.2Z" fill="#d2ffc8" stroke="#d2ffc8" stroke-width="1.2" stroke-linejoin="round"/><path d="M665.4 347.5L665.0 348.8L663.9 349.6L662.6 349.6L661.5 348.8L661.0 347.5L661.5 346.2L662.6 345.4L663.9 345.4L665.0 346.2Z" fill="#d2ffc8" stroke="#d2ffc8" stroke-width="1.2" stroke-linejoin="round"/><path d="M797.2 149.9L800.1 148.8L803.1 150.6L801.6 152.4L798.2 152.1Z" fill="#90ff90" stroke="#90ff90" stroke-width="1.2" stroke-linejoin="round"/><path d="M804.1 152.1L807.5 150.6L812.6 150.6L816.3 152.8L818.5 156.5L817.1 158.2L813.4 157.6L809.7 158.7L806.8 160.1L804.1 158.7L805.3 155.7Z" fill="#90ff90" stroke="#90ff90" stroke-width="1.2" stroke-linejoin="round"/><path d="M803.1 182.2L806.8 181.2L810.4 182.2L811.2 185.1L807.5 186.6L804.1 185.6Z" fill="#90ff90" stroke="#90ff90" stroke-width="1.2" stroke-linejoin="round"/><path d="M793.5 193.5L797.2 192.9L800.1 194.4L798.7 196.2L795.0 196.5Z" fill="#90ff90" stroke="#90ff90" stroke-width="1.2" stroke-linejoin="round"/><path d="M831.6 114.2L838.2 114.2L838.2 115.8L831.6 115.8Z" fill="#90ff90" stroke="#90ff90" stroke-width="1.2" stroke-linejoin="round"/><path d="M749.8 260.4L749.2 262.3L747.6 263.4L745.7 263.4L744.1 262.3L743.5 260.4L744.1 258.6L745.7 257.4L747.6 257.4L749.2 258.6Z" fill="#90ff90" stroke="#90ff90" stroke-width="1.2" stroke-linejoin="round"/><path d="M706.5 278.6L712.7 276.1L720.6 277.1L722.8 281.1L717.5 283.3L709.6 283.3Z" fill="#90ff90" stroke="#90ff90" stroke-width="1.2" stroke-linejoin="round"/><path d="M587.3 353.8L591.1 350.6L595.8 353.1L596.4 360.0L594.2 363.8L602.1 363.8L608.3 361.6L614.6 363.2L614.0 369.5L606.8 372.6L597.4 372.6L589.5 369.5L587.0 363.2Z" fill="#90ff90" stroke="#90ff90" stroke-width="1.2" stroke-linejoin="round"/><path d="M814.0 153.2L813.7 154.2L812.9 154.8L811.9 154.8L811.0 154.2L810.7 153.2L811.0 152.3L811.9 151.7L812.9 151.7L813.7 152.3Z" fill="#66ffff" stroke="#66ffff" stroke-width="1.2" stroke-linejoin="round"/><path d="M708.0 280.2L712.1 278.6L715.3 280.5L712.1 282.4Z" fill="#66ffff" stroke="#66ffff" stroke-width="1.2" stroke-linejoin="round"/><path d="M593.0 356.9L592.5 358.4L591.2 359.3L589.7 359.3L588.4 358.4L587.9 356.9L588.4 355.4L589.7 354.5L591.2 354.5L592.5 355.4Z" fill="#66ffff" stroke="#66ffff" stroke-width="1.2" stroke-linejoin="round"/><path d="M588.9 366.3L594.2 364.7L602.1 363.2L606.8 363.8L605.2 366.9L598.9 368.8L592.0 369.5Z" fill="#66ffff" stroke="#66ffff" stroke-width="1.2" stroke-linejoin="round"/><path d="M590.1 367.3L594.2 366.3L593.3 368.8Z" fill="#00c8ff" stroke="#00c8ff" stroke-width="1.2" stroke-linejoin="round"/><path d="M601.4 364.1L605.2 363.8L603.9 366.3Z" fill="#00c8ff" stroke="#00c8ff" stroke-width="1.2" stroke-linejoin="round"/>
<path class="grid" d="M618.45 31.5V414.5M682.50 31.5V414.5M746.55 31.5V414.5M810.60 31.5V414.5M874.65 31.5V414.5M555.5 349.75H938.5M555.5 285.90H938.5M555.5 222.05H938.5M555.5 158.20H938.5M555.5 94.35H938.5"/>
<path class="coast" d="M687.0 71.0L688.7 69.6L690.1 68.8L691.2 67.3L692.7 66.4L694.7 66.0L695.8 65.6L697.5 65.5L698.7 65.9L700.6 66.0L701.9 65.8L703.1 65.3L704.6 65.6L706.2 65.3L707.8 65.1L709.3 64.4L710.7 63.6L712.1 62.6L712.7 61.7L714.1 60.7L714.8 59.8L715.4 58.7L716.5 57.8L717.9 57.0L719.1 56.6L720.6 56.1L721.3 55.0L722.9 55.1L724.5 55.2L726.2 54.5L727.5 54.5L728.7 53.3L730.6 53.3L731.5 52.4L732.7 52.1L734.2 52.3L735.7 51.7L737.0 51.1L738.4 50.9L739.6 50.7L740.9 50.6L742.5 51.0L743.8 50.3L744.9 49.4L746.7 48.8L747.8 47.3L749.3 47.0L751.1 47.0L752.6 46.2L754.0 45.5L755.3 45.2L756.5 44.8L757.9 44.8L759.2 44.0M696.7 60.0L698.1 59.9L699.2 60.0L700.6 59.4L702.1 59.5L703.7 60.0L705.4 60.1L707.0 59.9L708.7 59.8L710.1 59.6L711.6 59.5L712.9 59.6L714.3 60.0M707.8 91.8L709.1 90.8L710.6 90.2L711.6 89.8L712.9 89.6L714.3 89.9L715.8 90.1L717.4 90.5L717.6 92.2L718.7 93.3L717.9 95.4L716.7 96.9L715.5 98.0L714.1 99.2L713.2 100.0L711.9 100.2L710.8 99.3L709.5 98.6L708.6 96.6L709.3 94.2L708.7 92.8L707.8 91.8M682.0 132.7L683.3 131.5L685.0 131.0L686.0 130.1L687.7 129.5L688.9 128.3L690.4 127.5L690.8 126.4L692.2 125.4L693.4 125.4L694.3 126.0L695.8 124.7L696.9 123.3L698.0 122.7L699.2 122.1L700.8 122.2L701.9 121.0L702.9 119.5L703.7 118.7L705.0 117.3L705.8 116.0L708.6 116.6L711.1 115.8L711.8 117.8L712.0 119.1L712.9 120.6L714.5 121.5L716.0 122.2L717.6 122.3L719.3 122.7L720.6 123.1L722.0 123.5L723.5 123.2L725.2 122.7L727.3 122.6L728.4 121.6L730.4 121.6L732.0 120.6L733.4 120.7L734.5 119.6L735.8 119.5L736.8 118.4L738.4 117.9L739.5 117.0L740.8 116.2L742.5 116.2L743.8 114.9L744.8 114.4L745.8 113.5L747.2 112.9L748.7 112.6L749.4 111.0L750.5 110.3L751.3 109.0L752.1 107.7L753.2 106.7L753.8 105.5L754.4 104.5L755.6 103.7L756.6 102.9L758.0 102.1L759.1 100.7M758.5 44.0L759.8 43.4L761.0 42.2L762.4 41.4L763.7 40.0L764.9 38.8L765.5 37.6L766.8 37.0L767.7 35.9L769.3 35.3L768.9 34.0L768.5 32.6L766.5 32.7L765.0 32.4L763.6 32.8L762.1 33.5L760.4 32.6L759.0 31.5M759.0 101.0L760.0 99.8L761.2 98.7L762.3 97.6L763.3 96.4L764.1 95.4L765.2 94.6L766.6 93.7L767.9 92.5L768.6 91.1L769.9 90.5L770.4 89.1L771.7 88.5L772.4 87.2L773.6 86.1L774.6 85.3L775.9 84.3L776.4 83.4L778.0 82.5L778.8 81.5L779.4 80.3L780.5 79.2L781.5 77.9L782.7 77.3L783.9 76.0L784.9 74.9L785.8 73.7L786.6 72.6L786.9 71.4L788.0 70.4L788.9 69.4L789.9 68.6L790.8 67.4L792.3 66.6L793.2 65.4L793.7 64.3L794.6 63.2L795.8 62.0L797.1 61.7L798.3 60.3L799.0 59.6L800.0 58.5L800.7 57.3L802.2 56.2L802.7 55.2L803.8 54.4L805.3 53.4L806.3 52.8L807.4 51.6L809.2 51.0L810.0 50.0L811.0 48.6L812.0 47.6L812.8 46.1L813.1 44.6L813.9 43.6L813.8 42.2L814.6 40.6L815.1 39.5L815.1 38.3L815.5 36.9L815.7 35.7L816.8 34.5L816.9 32.7L817.3 31.0M837.3 31.0L837.1 32.5L836.6 33.5L836.6 35.1L836.6 36.1L836.9 37.7L835.7 38.9L835.3 40.5L834.3 42.1L834.0 43.8L833.9 45.4L832.9 46.6L833.9 48.1L834.5 49.2L835.8 50.3L836.0 51.5L836.9 53.0L837.1 54.6L837.1 56.2L836.4 57.8L836.9 59.3L836.4 61.2L835.8 62.9L835.4 64.5L835.4 65.7L836.1 67.3L836.5 68.4L836.1 70.1L835.6 71.4L834.8 72.7L834.8 74.5L834.0 75.9L834.1 77.9L834.6 79.3L835.7 81.0L837.4 81.7L838.0 80.0L839.1 78.7L839.7 76.8L840.8 76.3L841.6 74.6L842.8 73.5L844.3 72.9L845.2 72.6L846.6 72.5L848.0 72.4L849.7 73.9L851.5 75.0L851.7 75.8L852.2 77.2L853.0 78.7L853.4 79.7L854.3 80.7L855.3 79.5L855.2 77.9L854.7 76.3L855.0 74.7L854.3 72.9L854.0 71.0L851.9 71.0L850.5 70.8L849.8 69.8L849.4 68.5L849.2 66.7L848.0 65.6L847.2 64.7L846.8 63.3L845.7 62.4L844.8 60.9L843.6 60.3L843.3 58.7L842.8 57.5L842.4 55.9L842.8 54.4L842.8 52.7L843.2 51.0L843.5 49.5L845.0 48.3L845.4 46.7L846.0 45.4L847.3 44.0L847.8 42.5L849.7 41.6L850.8 40.6L852.5 40.2L854.0 39.2L855.6 39.6L857.2 39.5L858.3 39.6L859.7 39.0L861.0 39.1M861.0 39.3L862.8 39.3L864.2 39.5L865.2 40.8L866.0 41.8L866.9 42.8L867.5 44.1L868.5 45.4L869.2 46.8L870.3 47.4M863.0 31.0L863.2 32.6L863.7 33.8L864.1 35.4L864.4 36.5L864.6 38.0L864.8 39.5M880.2 109.3L881.3 108.5L882.1 107.3L882.6 106.2L883.9 105.4L884.3 104.5L885.5 103.3L886.2 102.5L887.7 102.1L888.3 100.9L889.7 101.6L891.3 101.5L892.6 102.1L891.1 103.0L889.7 103.7L888.3 104.6L887.1 105.4L886.3 106.1L885.2 107.4L883.8 107.8L883.2 109.1L881.8 110.0L880.2 109.3M898.0 100.7L899.1 99.4L900.4 98.8L901.5 97.5L902.8 97.0L903.6 96.1L904.5 94.9L905.7 94.5L906.9 93.8L907.6 92.5L909.3 91.6L910.2 90.5L910.7 89.1L912.5 90.9L914.1 92.1L915.3 90.7L916.4 89.8L917.5 89.3L918.4 88.4L919.6 88.0L921.2 88.3L922.6 87.9L923.2 89.7L921.6 89.9L920.0 90.6L918.6 91.5L916.9 91.5L915.4 92.5L914.7 93.5L913.6 94.3L912.1 94.2L911.0 95.2L909.1 95.0L907.9 96.0L906.4 96.9L905.2 97.9L903.7 98.5L902.7 99.5L900.9 100.4L899.8 100.9L898.7 101.4L898.0 100.7M930.7 86.8L931.7 86.3L932.5 84.5L933.2 84.0L934.6 83.4L935.8 82.9L937.0 82.2L938.1 82.9L936.3 83.9L935.2 84.9L933.9 85.7L933.2 86.7L931.6 87.1L930.7 86.8M834.8 87.3L836.1 88.6L837.2 89.1L838.8 90.4L840.1 91.6L841.3 92.7L842.2 93.9L843.2 94.8L844.0 96.2L845.4 97.1L846.3 97.7L847.5 99.0L848.7 99.9L849.6 100.9L851.1 101.6L852.6 102.3L853.9 102.8L855.5 103.6L856.7 104.2L857.9 104.8L859.5 105.0L860.6 105.9L862.1 105.8L863.6 106.2L865.1 107.2L866.3 107.4L867.6 107.3L869.1 107.7L870.3 107.3L871.8 107.0L872.8 106.4L874.1 105.4L875.5 104.6L876.7 103.5L878.1 102.7L878.1 104.5L877.1 105.6L876.3 106.9L875.8 108.4L875.4 109.4L874.9 110.8L877.3 112.0L878.0 114.2L880.2 115.5L881.6 114.7L883.3 114.8L882.3 115.7L881.6 116.6L880.0 116.7L878.6 117.7L876.7 117.6L875.3 117.9L873.3 118.5L871.9 119.0L870.2 119.7L868.3 119.7L866.9 120.0L865.6 120.5L864.3 120.4L862.6 120.7L860.9 121.2L859.4 122.8L858.2 124.2L856.8 125.4L855.4 126.4L854.3 128.5L853.4 130.2L852.8 131.7L852.2 133.3L850.7 132.5L849.3 131.4L848.1 130.7L846.9 130.1L845.5 129.5L843.7 128.8L842.4 127.4L840.6 126.8L839.0 126.3L837.5 126.2L835.9 125.8L834.8 125.5L833.2 125.2L832.0 124.9L830.7 124.9L829.5 125.5L827.8 126.0L826.7 126.4L825.3 127.1L823.8 127.6L822.4 127.8L820.6 126.9L819.1 126.2L817.3 126.3L815.2 126.9L813.9 129.1L815.0 129.7L815.7 130.9L816.8 131.3L818.2 132.5L820.0 132.8L820.8 133.8L822.6 134.0L824.0 134.8L825.2 136.4L823.7 136.3L822.4 136.1L821.1 136.7L819.9 137.5L818.3 137.5L817.0 138.4L815.5 139.0L814.1 139.5L812.0 139.2L811.9 137.5L811.2 136.2L812.2 134.8L811.8 133.6L811.6 132.0L810.4 131.1L810.2 129.3L809.5 128.2L809.0 126.9L808.6 125.4L809.8 124.5L810.3 123.3L811.7 122.7L812.8 122.4L814.3 122.2L815.9 120.1L814.7 117.8L815.0 115.6L817.2 115.1L818.4 114.8L820.3 115.3L821.9 115.1L823.8 115.0L825.4 115.2L826.7 114.5L827.2 113.3L828.2 112.5L828.5 110.9L828.6 109.8L828.8 108.1L829.4 106.7L830.4 105.3L831.5 104.1L831.9 102.5L832.4 100.4L832.4 99.0L832.7 97.2L832.6 95.6L832.4 93.9L831.5 92.3L831.0 91.0L832.3 88.9L833.3 88.4L834.8 87.3M803.9 180.0L804.7 178.7L804.9 177.2L805.7 176.0L806.5 174.5L807.3 173.2L808.6 172.0L809.2 170.2L810.3 169.0L810.5 166.8L811.0 165.4L810.8 163.7L810.8 162.4L810.3 160.4L807.8 160.2L807.1 158.7L809.3 157.1L808.6 155.4L808.2 154.5L808.9 152.4L809.2 150.7L810.7 149.5L811.9 148.4L812.6 147.3L813.3 146.4L814.5 145.3L814.5 143.8L815.7 142.4L817.7 143.3L818.5 145.3L819.6 147.0L821.1 146.6L821.3 144.8L821.1 143.0L821.1 141.9L821.5 140.6L821.9 139.4L823.1 138.6L825.5 139.5L827.9 140.7L828.7 143.3L827.9 144.9L827.9 146.5L828.3 147.8L828.8 149.1L829.6 150.2L830.4 151.8L831.4 152.7L832.9 154.1L833.2 155.9L833.8 157.8L834.9 159.1L835.3 160.9L835.8 162.5L836.7 164.1L836.2 165.8L835.3 166.9L834.5 168.1L834.0 169.7L833.0 171.5L831.8 172.9L830.7 174.0L830.2 175.7L829.3 176.7L829.2 178.6L828.4 179.8M823.3 139.8L823.7 141.3L823.6 142.5L823.9 144.1L824.8 145.5L823.5 147.0L821.9 145.3L821.6 143.6L822.2 142.0L822.8 141.0L823.3 139.8M823.3 147.0L825.0 145.8L825.1 143.8L825.2 142.0L827.0 141.2M804.0 178.8L803.0 180.0L802.1 180.7L801.7 182.5L800.5 183.3L799.2 184.1L797.9 185.3L797.2 187.0L796.0 187.5L794.5 188.7L793.8 189.9L793.0 190.6L792.0 192.0L791.0 193.2L789.6 194.0L788.1 194.5L786.9 195.5L785.3 196.0L783.7 196.1L782.9 196.7L781.6 197.0L780.3 197.2L779.1 197.6L777.3 198.6L775.7 199.6L773.2 199.5L772.6 198.2L771.3 197.1L771.7 195.9L772.3 194.7L773.5 193.1L774.7 192.3L776.3 190.6L774.2 190.2L772.4 190.9L770.7 191.2L769.4 192.6L768.0 193.9L768.8 195.6L769.0 197.4L768.1 198.6L767.6 200.8L766.6 201.8L765.9 202.9L764.9 203.9L763.8 205.1L762.4 205.3L761.5 206.2L760.3 207.9L759.1 208.9M787.3 184.7L787.8 183.0L789.0 181.5L789.8 180.3L790.9 179.7L791.8 182.3L791.2 183.6L790.4 185.1L788.4 186.7L787.3 184.7M822.2 180.0L822.4 181.4L822.3 182.9L822.8 184.4L823.2 186.3L823.6 187.7L823.6 189.4L822.9 191.0L823.1 192.7L822.9 194.4L822.6 195.9L821.7 197.4L820.9 198.2L819.9 199.3L819.2 201.5L818.6 203.2L817.9 204.6L817.0 206.6L817.7 208.7L819.5 210.7L821.5 212.4L819.3 213.4L817.4 214.1L816.4 215.7L816.5 217.3L814.9 219.1L812.8 219.8L810.8 221.2L809.1 222.6L807.8 222.7L806.6 221.6L807.5 219.1L809.1 217.5L810.1 214.7L810.1 213.1L807.6 213.7L806.7 215.5L805.4 217.9L806.1 219.9L807.0 221.5M805.6 217.8L804.0 217.2L801.8 218.7L800.2 220.1L798.7 222.3L797.4 224.3L796.2 226.7L795.3 227.4L793.9 225.5L793.9 223.1L793.1 221.4L791.3 221.9L790.1 223.2M828.3 180.0L826.3 181.0L823.6 181.3L822.2 180.7M726.7 216.4L728.1 215.7L730.1 215.4L731.6 215.2L732.9 214.5L734.5 214.7L736.2 214.5L737.2 213.8L738.8 213.8L740.4 212.9L742.1 213.3L743.3 213.2L744.4 212.3L745.8 212.8L747.0 212.0L748.9 212.9L750.0 214.8L752.5 215.5L753.7 215.0L755.1 215.2L756.5 214.5L757.7 214.0L759.3 212.2L759.0 209.8L759.9 207.9L761.2 206.5L762.3 205.5L763.0 204.4L764.4 203.6L765.4 202.1L766.3 201.1L767.7 199.6L769.4 197.7M757.6 221.7L758.3 220.2L759.1 219.1L759.9 217.7L760.7 217.0L762.3 216.6L762.0 218.0L761.1 218.7L759.9 219.6L758.8 221.7L757.6 221.7M730.0 229.1L731.4 228.3L733.1 227.6L734.5 227.1L736.2 226.6L737.3 225.6L738.7 225.2L740.3 224.7L741.8 224.9L744.1 224.7L746.7 225.6L748.5 226.0L750.0 226.1L752.1 226.7L751.5 228.3L750.2 229.1L749.1 229.7L748.5 231.2L747.5 232.7L747.3 234.3L747.4 235.4L748.6 236.4L749.3 237.4L750.1 238.4L750.8 239.5L752.3 240.6L753.4 241.0L754.7 241.2L756.1 241.8L757.0 241.0L758.2 240.3L759.0 239.2L760.3 238.0L761.0 236.2L762.0 234.9L762.7 233.8L763.1 232.5L765.4 231.6L767.1 231.6L768.2 231.0L770.1 229.7L769.0 228.4L766.9 227.3L765.9 225.0L767.4 224.0L767.9 222.7L769.4 221.1L770.1 223.4L770.9 225.1L771.8 226.2L772.9 226.5L774.5 226.1L775.8 226.0L777.4 225.5L778.7 225.9L780.0 226.1L781.6 226.0L783.3 226.0L784.9 226.4L786.7 226.4L787.7 226.0L788.7 224.8L789.1 223.5L790.4 222.2L792.2 220.7L793.8 222.4L794.4 223.4L794.3 225.1L795.4 226.7L797.1 226.0L798.1 224.9L800.1 225.4M744.2 225.1L745.1 226.8L743.7 229.0L742.9 231.4L741.4 233.4L742.1 235.8L741.3 237.8L739.8 238.6L738.6 239.4L737.6 240.0L736.6 241.2L736.2 243.0L735.6 244.3L734.1 243.5L732.8 242.8L731.7 241.7L730.1 241.7M733.9 227.2L736.3 226.2L737.7 226.9L739.0 226.9L740.8 227.2L739.1 228.0L737.8 228.1L736.3 228.1L734.7 228.1L733.9 227.2M685.1 258.7L684.6 260.6L684.7 261.8L684.9 263.3L684.7 264.4L684.6 265.8L685.2 268.1M694.7 235.1L694.0 234.0L693.6 232.8L694.2 230.4L696.2 229.4L698.7 229.1L700.0 228.0L700.9 227.0L702.4 226.3L703.8 225.7L704.6 225.0L705.9 224.3L706.7 223.3L707.9 222.3L708.8 221.7L710.3 221.2L711.4 220.5L712.8 219.8L713.7 219.3L714.5 218.2L715.9 217.2L717.8 216.2L718.9 215.5L720.1 215.6L722.0 215.7L723.8 215.4L724.9 215.3L726.7 216.0M696.0 234.3L697.4 234.0L698.4 233.4L699.9 234.4L701.3 234.0L702.9 234.9L704.9 234.5L706.4 234.7L708.0 235.2L709.2 235.5L710.6 235.2L712.1 234.1L711.3 231.4L712.6 230.6L713.8 231.3L714.3 232.8L714.8 233.5L716.7 232.5L718.4 232.4L720.0 231.8L720.9 230.8L722.4 230.1L724.2 230.0L725.7 229.0L727.5 228.5L728.9 228.5L730.8 228.4L732.1 227.5L733.2 226.9L734.8 226.6L735.7 225.8M736.0 243.2L734.9 242.8L733.3 242.3L731.3 240.9L730.0 241.0L728.5 240.8L726.2 241.9L725.1 242.7L724.4 243.9L723.2 244.7L722.3 246.0L722.0 247.7L721.4 249.1L720.0 250.2L718.6 249.1L716.2 249.0L714.9 247.1L715.0 245.5L714.3 244.5L714.2 242.0L712.7 241.0L710.8 241.5L708.6 243.0L710.8 241.7L713.0 241.0L713.4 239.8L714.7 238.7L716.4 237.0L718.7 236.5L719.9 236.3L721.1 235.6L722.9 233.9L725.3 234.6L726.7 232.4L728.5 231.2L730.9 231.1L733.0 230.0L735.0 229.5L735.9 228.9M687.6 280.9L688.2 279.8L689.4 279.0L690.6 280.2L690.4 281.4L689.8 282.4L688.2 282.3L687.6 280.9M682.0 133.0L681.2 134.3L680.2 135.2L679.8 136.7L679.1 138.0L678.5 139.3L677.4 140.5L678.3 141.8L678.4 143.2L679.4 144.7L678.0 145.7L677.4 147.2L675.6 147.6L674.0 148.9L673.1 150.0L671.4 150.6L670.6 151.5L669.4 152.2L667.6 153.0L666.8 153.7L665.1 154.4L664.1 155.1L662.6 155.8L661.4 156.5L660.2 157.3L658.5 157.5L656.8 157.4L655.8 157.8L654.8 159.0L653.4 160.1L652.1 160.7L650.9 161.6L650.3 163.0L649.6 164.6L649.1 165.6L648.8 167.0L649.5 168.0L651.0 168.7L652.0 169.9L653.5 170.4L654.5 171.0L656.0 172.1L656.8 173.0L658.7 174.1L660.6 174.6L661.2 175.5L662.1 177.0L662.8 178.1L663.4 179.2L664.2 180.4L664.8 182.0L665.6 182.7L665.9 184.5L667.3 185.3L667.8 187.0L669.1 188.0L669.3 189.3L670.4 190.6L671.4 191.7L671.8 192.9L672.8 194.1L673.6 195.6L674.0 196.5L674.4 198.0L675.0 199.6L675.3 201.5L676.0 203.1L675.2 204.4L675.2 205.7L675.0 207.3L675.9 208.5L676.9 209.6L676.1 211.1L675.8 213.1L675.0 214.6L674.0 216.3M682.0 133.0L682.3 132.7M555.0 188.8L556.6 187.9L558.2 187.2L559.7 186.9L561.0 186.3L562.2 186.0L564.1 186.0L565.3 186.1L566.9 186.3L568.2 187.0L569.9 188.0L570.7 189.0L572.4 189.6L573.3 190.6L574.6 190.9L576.3 191.1L577.5 190.6L578.8 190.7L580.2 190.7L581.9 190.6L583.2 191.1L584.6 190.9L585.8 191.6L587.4 191.6L589.0 191.9L588.4 192.6L587.6 193.6L587.2 195.7L586.8 197.3L585.3 197.4L584.3 197.9L582.6 198.3L581.3 198.2L579.8 198.9L578.2 199.1L576.8 199.7L574.9 199.4L573.6 200.0L572.3 200.4L570.8 201.5L569.4 201.6L568.0 201.9L566.7 201.9L565.7 203.2L564.0 204.1L562.6 204.9L561.7 206.7L560.2 207.0L558.4 206.9L557.2 208.0L556.2 209.1L555.4 209.7M555.0 206.3L556.5 207.9L557.3 210.0L555.8 210.6M555.0 229.7L556.4 230.2L557.8 231.1L557.9 233.0L558.7 235.0M558.3 235.0L559.1 236.3L559.8 237.7L561.0 239.3L561.9 240.3L562.3 241.8L563.7 243.3L563.8 244.5L565.3 245.4L566.0 246.4L566.6 247.6L566.7 249.2L567.1 250.5L567.3 251.8L568.5 252.4L570.0 253.3L570.6 254.2L571.6 255.4L572.9 256.5L574.2 257.3L575.2 258.6L576.4 259.9L577.4 261.1L578.3 262.7L579.3 264.3L578.5 265.5L578.6 266.8L576.9 266.3L575.0 265.9L573.4 265.5L571.7 264.1L570.5 262.9L569.2 262.2L567.3 261.8L565.8 261.2L564.2 260.1L562.3 259.5L561.2 259.0L559.6 260.0L558.3 260.0L556.6 261.0L555.1 261.7M570.0 263.7L571.4 263.4L572.9 263.2L574.2 263.1L575.4 264.2L576.9 264.8L578.4 265.1L576.7 266.6L575.4 266.0L573.8 265.7L572.5 266.2L571.1 264.7L570.0 263.7M571.7 264.7L572.4 265.8L573.8 266.7L574.7 267.7L575.5 268.7L576.3 269.9L577.7 270.6L578.1 272.3L579.1 273.9L578.2 275.2L576.9 276.0L575.4 275.3L573.8 275.0L572.4 274.6L571.1 275.8L569.8 276.4L568.9 278.1L567.6 279.0L566.6 280.2L564.8 280.8L563.6 281.0L562.5 281.7L560.8 281.5L559.3 282.5L557.8 283.5L556.3 284.0L555.0 284.3M555.8 266.7L557.3 266.3L558.4 265.8L558.9 267.3L559.9 268.5L560.5 269.9L562.0 271.8L560.4 272.7L559.1 273.9L557.9 273.9L556.8 273.6L556.2 272.0L555.7 270.8L556.2 269.7L555.7 268.3L555.8 266.7M633.3 242.5L635.0 241.3L636.6 240.5L638.2 240.9L639.4 240.4L641.1 240.5L642.1 241.0L643.3 241.2L642.4 243.2L640.8 244.0L639.3 244.5L637.4 245.1L635.7 245.0L633.7 244.5L633.3 242.5M555.8 369.2L556.6 367.8L556.6 366.2L557.4 364.6L557.4 363.4L557.9 362.2L559.0 360.7L559.2 359.4L559.9 358.0L560.8 357.2L561.3 355.8L562.7 354.9L563.4 353.4L564.4 352.2L565.3 351.0L566.1 350.1L567.5 349.4L568.7 348.1L570.1 347.7L571.8 346.8L573.3 345.9L574.9 345.4L576.6 346.7L578.5 347.5L579.4 348.6L579.9 349.8L579.2 351.2L578.6 352.9L579.7 354.1L579.8 355.7L578.9 356.5L577.9 358.0L577.6 359.3L576.8 360.6L576.0 361.6L575.5 363.0L575.6 364.7L574.7 365.9L574.7 367.6L573.8 368.7L573.4 370.6L572.4 371.6L571.7 373.4L571.4 374.8L570.6 375.7L570.1 377.1L569.1 378.1L568.3 379.8L567.6 381.2L567.2 382.8L566.2 384.0L566.4 385.4L565.7 386.4L565.6 388.2L564.9 389.3L563.1 388.3L563.1 386.8L562.2 384.8L561.3 383.9L560.8 382.5L559.9 382.0L559.5 380.1L558.2 378.9L557.2 377.6L557.2 376.0L556.6 374.8L556.2 373.6L556.2 372.0L555.9 370.7L555.8 369.2M555.0 327.5L555.9 326.1L557.0 325.0L558.5 324.5L559.7 323.3L560.5 322.5L561.6 321.2L562.5 320.1"/><path class="coast" style="stroke-width:1.7" d="M679.1 242.1L681.2 241.3L683.3 240.5L684.8 240.3L686.1 239.2L687.2 238.4L688.7 237.5L689.4 236.4L691.1 236.5L692.9 236.2L694.5 235.6L696.0 235.5L696.2 237.8L697.2 239.1L699.7 238.9L701.6 239.1L703.3 239.5L704.4 241.8L702.3 242.7L703.8 244.2L706.1 244.5L707.2 246.9L707.3 248.6L706.8 249.9L706.2 251.2L705.5 251.9L704.5 253.1L704.4 254.8L704.1 256.2L703.1 257.0L702.4 258.4L701.8 260.0L701.7 262.1L701.6 262.8L700.8 264.2L699.6 266.5L697.9 267.6L696.6 268.9L695.1 270.3L693.3 271.7L692.2 272.6L691.4 272.9L690.5 271.4L689.5 270.2L688.6 269.8L686.9 269.5L685.2 268.8L684.5 267.7L686.1 266.0L685.6 263.0L684.2 260.8L684.0 259.2L682.8 257.3M555.0 157.2L556.3 155.9L557.5 155.5L559.5 155.7L560.2 154.3L560.8 152.8L562.6 151.8L563.8 150.9L564.4 150.1L566.4 149.0L566.5 148.2L568.1 147.4L569.5 147.0L570.6 146.4L571.5 146.1L573.6 145.2L574.5 146.6L576.1 146.8L577.9 145.7L578.7 144.7L578.8 146.9L581.0 148.3L582.1 149.3L583.0 151.5L582.5 153.0L581.4 152.9L580.8 154.5L579.9 156.3L577.8 156.7L577.5 158.7L575.2 159.3L574.7 159.8L572.8 160.8L572.4 163.2L571.4 165.1L573.0 165.1L574.0 165.0L575.0 165.6L577.3 165.0L577.9 166.6L576.1 166.5L574.4 167.1L576.6 168.0L577.9 169.0L575.7 169.2L574.6 169.4L573.6 170.0L571.7 171.6L570.4 171.8L569.3 172.0L568.4 174.2L570.0 173.2L571.2 172.6L573.3 172.9L574.6 172.6L575.4 172.3L576.2 170.6L578.1 169.9L578.6 169.2L579.2 168.5L581.2 168.0L582.4 166.9L583.8 166.5L584.1 165.7L585.6 164.3L586.3 164.1L588.1 164.3L589.4 163.6L590.4 162.8L591.9 162.1L592.9 161.5L595.2 161.4L596.1 160.5L598.4 160.1L600.1 159.8L601.7 159.2L603.0 159.1L604.8 159.8L606.1 159.5L607.6 159.3L609.1 158.8L610.8 160.4L612.8 160.7L614.1 161.0L615.5 161.1L617.4 161.0L618.6 161.9L619.2 162.0L621.5 161.7L622.7 162.9L623.3 163.3L625.0 163.8L623.8 164.5L623.7 166.5L623.2 167.5L623.0 169.1L622.9 170.2L621.6 171.9L621.8 174.1L622.9 174.4L624.8 174.1L625.9 174.2L623.8 175.4L622.5 176.0L621.2 175.8L619.6 177.6L618.3 177.5L617.8 180.3L616.4 181.5L614.7 181.1L616.6 182.2L617.5 181.9L619.4 183.3L620.2 183.8L621.1 185.7L623.0 186.3L625.3 185.8L626.0 185.0L627.4 183.8L629.0 184.1L630.6 183.8L632.0 184.7L633.2 184.8L634.5 185.1L635.4 186.2L637.1 186.4L638.0 186.2L639.6 186.4L640.4 188.8L642.2 189.5L641.8 191.5L641.3 192.1L640.7 193.4L641.3 196.1L642.2 197.0L641.5 196.9L640.0 198.3L638.1 198.7L636.6 198.1L635.8 198.3L634.1 199.2L632.9 200.4L635.0 201.8L636.0 203.0L636.3 204.6L637.6 205.3L638.7 206.0L639.1 207.6L641.3 207.6L641.6 208.1L640.6 210.7L640.6 212.4L639.0 213.2L637.5 214.4L636.8 216.3L636.7 217.7L636.0 219.1L636.2 221.0L636.7 221.9L636.5 223.5L636.4 225.7L634.9 226.8L633.9 228.3L632.6 229.5L634.9 230.5L636.5 230.3L637.7 228.6L638.9 227.2L640.7 227.8L641.8 228.1L643.2 227.4L644.2 227.0L645.4 226.3L647.1 226.1L648.3 224.9L650.2 224.3L650.8 223.9L652.5 223.6L653.3 223.2L655.3 222.6L657.2 222.8M673.7 216.3L673.1 217.6L672.5 218.8L671.9 219.7L670.2 220.2L668.2 220.5L667.0 221.2L665.8 221.9L664.5 221.8L662.5 222.6L661.5 224.3L659.5 223.2L658.5 223.8L656.7 222.5L655.1 222.8M562.5 281.3L562.5 282.8L564.1 284.2L565.9 284.6L567.6 283.2L569.5 282.1L571.4 282.2L573.2 281.4L574.2 282.6L575.4 283.8L575.9 285.4L578.7 283.8L579.7 283.8L581.6 283.5L581.9 283.3L583.5 284.1L585.1 285.7L582.7 286.1L580.6 288.1L580.1 289.0L579.7 291.3L579.5 292.5L579.1 293.8L577.1 293.4L575.8 292.7L575.5 294.2L577.6 296.0L575.0 297.5L575.4 299.2L575.0 300.2L577.0 301.3L575.6 302.9L574.1 304.1L574.5 304.8L575.3 306.3L573.3 307.3L572.1 308.2L571.7 308.9L570.7 309.0L569.1 308.6L569.5 310.0L571.5 310.5L568.9 311.6L567.3 311.1L566.4 311.0L564.6 311.1L562.9 312.2L563.1 314.3L563.7 314.7L562.8 314.9L562.3 316.9L561.8 318.7L560.8 319.6L559.8 321.8L558.8 322.5L557.4 323.8L558.2 326.0L556.6 326.4L555.8 327.9L554.8 329.8L555.3 331.6"/><path class="isl" d="M607.7 91.0L609.2 89.5L610.7 91.0L609.2 92.5ZM640.1 112.2L641.7 110.6L643.3 112.2L641.7 113.8ZM615.6 117.2L616.8 116.0L618.0 117.2L616.8 118.4ZM666.2 110.2L668.7 106.8L669.7 108.5L667.8 110.7ZM704.5 117.7L706.7 115.7L707.8 117.7L705.7 119.7ZM894.0 108.7L896.7 107.3L898.7 109.0L896.3 111.0ZM824.5 91.0L826.1 90.6L826.7 92.0L825.3 92.8ZM801.7 130.5L803.2 129.0L804.7 130.5L803.2 132.0ZM812.8 207.8L816.1 208.3L816.7 210.0L815.0 209.1ZM674.0 244.7L674.9 242.7L676.9 242.1L678.5 242.7L679.8 241.1L681.8 240.3L682.3 241.4L681.2 242.7L680.8 244.3L682.5 246.0L683.4 247.6L682.8 249.9L681.8 250.9L681.8 252.5L679.5 253.2L678.9 250.9L678.2 248.6L676.9 246.6L675.3 245.6ZM684.1 246.0L686.1 244.7L688.3 244.0L689.1 246.0L690.3 248.3L691.1 250.9L690.8 253.8L689.6 256.1L688.0 257.7L686.1 258.7L683.8 258.8L682.1 257.7L682.3 256.1L683.8 254.5L685.4 253.8L686.1 252.2L685.4 250.2L684.4 248.3ZM689.5 264.6L691.0 263.3L692.6 264.3L692.8 267.2L691.3 268.0L689.8 267.2ZM671.4 232.9L672.4 229.3L673.7 226.9L675.6 225.2L676.9 226.2L675.8 229.3L674.7 231.8L673.3 233.6ZM677.1 237.3L678.5 235.9L679.9 237.3L678.5 238.7ZM668.7 249.1L670.0 245.6L672.0 246.2L671.6 249.3L669.8 250.4ZM663.1 251.6L665.8 249.8L668.2 250.4L667.3 252.9L664.4 253.8ZM694.1 281.0L695.2 276.0L696.3 275.4L695.8 278.8L694.9 281.6ZM617.5 151.0L622.5 149.3L623.3 150.2L619.2 152.2ZM662.2 221.8L664.2 220.7L665.8 222.2L665.0 224.3L662.8 224.0ZM633.6 227.6L635.3 225.9L637.0 227.6L635.3 229.3ZM632.8 229.0L634.0 227.8L635.2 229.0L634.0 230.2ZM649.8 225.1L651.1 223.8L652.4 225.1L651.1 226.4ZM645.5 226.6L646.7 225.4L647.9 226.6L646.7 227.8ZM654.5 223.5L655.5 222.5L656.5 223.5L655.5 224.5ZM563.3 268.0L564.2 267.1L565.1 268.0L564.2 268.9ZM601.3 358.7L603.3 357.0L605.3 357.7L605.0 359.3L602.5 360.0ZM607.0 357.5L608.7 355.0L610.3 354.7L609.7 357.5L608.0 358.7ZM621.0 350.8L623.0 350.8L624.7 353.3L621.7 353.3ZM671.7 308.3L675.0 305.8L678.7 304.7L678.0 307.0L675.3 309.2L673.3 310.3ZM667.4 314.2L668.7 312.9L670.0 314.2L668.7 315.5ZM722.4 205.8L724.2 204.0L726.0 205.8L724.2 207.6ZM722.1 215.3L723.5 213.9L724.9 215.3L723.5 216.7ZM652.5 334.2L654.2 330.0L656.7 327.5L660.8 325.8L661.3 327.5L658.3 330.0L655.8 333.0L653.7 335.8Z"/><path d="M678.5 244.0L680.2 243.4L680.4 245.1L679.1 245.5ZM679.2 247.6L681.2 247.0L681.8 248.9L680.8 250.5L679.5 249.9ZM685.9 246.6L687.7 247.1L688.3 249.2L687.4 250.9L686.0 250.1ZM683.0 254.7L684.8 254.1L685.5 255.8L684.3 257.2L682.8 256.5Z" fill="#ffe8ba"/>
</g>
<rect class="fr" x="555.5" y="31.5" width="383.0" height="383.0"/>
<text class="tk m" x="618.8" y="424.7" textLength="22.5" lengthAdjust="spacingAndGlyphs">125°E</text>
<text class="tk m" x="682.8" y="424.7" textLength="22.5" lengthAdjust="spacingAndGlyphs">130°E</text>
<text class="tk m" x="746.9" y="424.7" textLength="22.5" lengthAdjust="spacingAndGlyphs">135°E</text>
<text class="tk m" x="810.9" y="424.7" textLength="22.5" lengthAdjust="spacingAndGlyphs">140°E</text>
<text class="tk m" x="875.0" y="424.7" textLength="22.5" lengthAdjust="spacingAndGlyphs">145°E</text>
<text class="tk e" x="550.5" y="352.1" textLength="18.5" lengthAdjust="spacingAndGlyphs">25°N</text>
<text class="tk e" x="550.5" y="288.3" textLength="18.5" lengthAdjust="spacingAndGlyphs">30°N</text>
<text class="tk e" x="550.5" y="224.4" textLength="18.5" lengthAdjust="spacingAndGlyphs">35°N</text>
<text class="tk e" x="550.5" y="160.6" textLength="18.5" lengthAdjust="spacingAndGlyphs">40°N</text>
<text class="tk e" x="550.5" y="96.8" textLength="18.5" lengthAdjust="spacingAndGlyphs">45°N</text>
<text class="t12 m ttl" x="746.5" y="25">Hourly Radar-AMeDAS analysis for 20251227 21</text>
<text class="t10" x="561" y="407">Provided by JWA/JMA</text>
<rect x="810.5" y="271.5" width="105.0" height="104.0" fill="#fff" stroke="#000" stroke-width="1"/>
<path d="M810.5 375.5L915.5 271.5" stroke="#000" stroke-width="1.25" fill="none"/>
<text class="t8 m" x="810.5" y="388.2">0</text>
<text class="t8 e" x="804.0" y="378.1">0</text>
<text class="t8 m" x="831.5" y="388.2">2</text>
<text class="t8 e" x="804.0" y="357.3">2</text>
<text class="t8 m" x="852.5" y="388.2">4</text>
<text class="t8 e" x="804.0" y="336.5">4</text>
<text class="t8 m" x="873.5" y="388.2">6</text>
<text class="t8 e" x="804.0" y="315.7">6</text>
<text class="t8 m" x="894.5" y="388.2">8</text>
<text class="t8 e" x="804.0" y="294.9">8</text>
<text class="t8 m" x="915.5" y="388.2">10</text>
<text class="t8 e" x="804.0" y="274.1">10</text>
<path d="M810.5 375.5v3.5M810.5 375.5h-3.5M831.5 375.5v3.5M810.5 354.7h-3.5M852.5 375.5v3.5M810.5 333.9h-3.5M873.5 375.5v3.5M810.5 313.1h-3.5M894.5 375.5v3.5M810.5 292.3h-3.5M915.5 375.5v3.5M810.5 271.5h-3.5M815.8 375.5v2M810.5 370.3h-2M821.0 375.5v2M810.5 365.1h-2M826.2 375.5v2M810.5 359.9h-2M836.8 375.5v2M810.5 349.5h-2M842.0 375.5v2M810.5 344.3h-2M847.2 375.5v2M810.5 339.1h-2M857.8 375.5v2M810.5 328.7h-2M863.0 375.5v2M810.5 323.5h-2M868.2 375.5v2M810.5 318.3h-2M878.8 375.5v2M810.5 307.9h-2M884.0 375.5v2M810.5 302.7h-2M889.2 375.5v2M810.5 297.5h-2M899.8 375.5v2M810.5 287.1h-2M905.0 375.5v2M810.5 281.9h-2M910.2 375.5v2M810.5 276.7h-2" stroke="#000" stroke-width=".8" fill="none"/>
<defs><clipPath id="cins"><rect x="810.5" y="271.5" width="105.0" height="104.0"/></clipPath></defs><path d="M833.1 374.7h3M834.6 373.2v3M817.4 368.2h3M818.9 366.7v3M822.6 371.3h3M824.1 369.8v3M820.5 372.4h3M822.0 370.9v3M824.8 373.9h3M826.2 372.4v3M826.9 375.0h3M828.4 373.5v3M815.3 370.3h3M816.8 368.8v3M812.1 371.9h3M813.6 370.4v3M810.5 374.9h3M812.0 373.4v3M810.3 375.1h3M811.8 373.6v3M814.4 375.2h3M815.9 373.7v3M815.4 375.0h3M816.9 373.5v3M815.0 375.2h3M816.5 373.7v3M811.3 375.3h3M812.8 373.8v3M818.6 374.4h3M820.1 372.9v3M811.9 374.9h3M813.4 373.4v3M818.8 373.3h3M820.3 371.8v3M814.1 374.9h3M815.6 373.4v3M810.8 375.4h3M812.3 373.9v3M812.0 374.7h3M813.5 373.2v3M810.8 375.0h3M812.3 373.5v3M812.8 373.4h3M814.3 371.9v3M812.2 374.0h3M813.7 372.5v3M812.6 374.6h3M814.1 373.1v3M811.0 375.4h3M812.5 373.9v3M812.7 375.2h3M814.2 373.7v3M811.6 374.3h3M813.1 372.8v3M812.0 374.0h3M813.5 372.5v3M813.7 375.2h3M815.2 373.7v3M811.5 373.6h3M813.0 372.1v3M809.3 373.9h3M810.8 372.4v3M820.6 375.1h3M822.1 373.6v3M809.6 374.5h3M811.1 373.0v3M811.9 375.4h3M813.4 373.9v3M817.5 374.5h3M819.0 373.0v3M812.9 374.3h3M814.4 372.8v3M817.3 375.0h3M818.8 373.5v3M809.7 373.9h3M811.2 372.4v3M812.6 374.7h3M814.1 373.2v3M811.6 373.9h3M813.1 372.4v3M814.6 374.8h3M816.1 373.3v3M816.4 373.0h3M817.9 371.5v3M817.4 375.2h3M818.9 373.7v3M817.3 374.8h3M818.8 373.3v3M820.0 372.4h3M821.5 370.9v3M811.1 374.6h3M812.6 373.1v3M815.5 374.3h3M817.0 372.8v3M815.4 375.3h3M816.9 373.8v3M810.4 375.0h3M811.9 373.5v3M818.2 374.7h3M819.7 373.2v3M812.0 374.8h3M813.5 373.3v3M818.1 373.9h3M819.6 372.4v3M814.5 374.8h3M816.0 373.3v3M820.4 374.7h3M821.9 373.2v3M813.9 373.2h3M815.4 371.7v3M810.1 374.2h3M811.6 372.7v3M816.6 373.5h3M818.1 372.0v3M812.2 375.3h3M813.7 373.8v3M810.9 374.7h3M812.4 373.2v3M809.7 374.1h3M811.2 372.6v3M812.8 375.0h3M814.3 373.5v3M815.0 375.5h3M816.5 374.0v3M814.1 374.3h3M815.6 372.8v3M817.5 374.9h3M819.0 373.4v3M817.0 375.3h3M818.5 373.8v3M809.9 375.1h3M811.4 373.6v3M817.1 374.2h3M818.6 372.7v3M816.3 373.9h3M817.8 372.4v3M813.5 374.7h3M815.0 373.2v3M815.5 374.4h3M817.0 372.9v3M811.0 375.3h3M812.5 373.8v3M809.9 374.8h3M811.4 373.3v3M810.0 375.2h3M811.5 373.7v3M812.3 375.5h3M813.8 374.0v3M813.4 374.8h3M814.9 373.3v3M820.6 375.1h3M822.1 373.6v3M811.5 375.0h3M813.0 373.5v3M809.1 374.3h3M810.6 372.8v3" stroke="#000" stroke-width=".55" fill="none" clip-path="url(#cins)"/>
<text class="t10 m" x="862.0" y="399.3">ANALYSIS</text>
<text class="t10 m" transform="translate(792,324) rotate(-90)">GSMAP_NRT_1HR</text>
<rect x="972.2" y="377.05" width="21.399999999999977" height="36.75" fill="#ffe8ba"/>
<rect x="972.2" y="340.60" width="21.399999999999977" height="36.75" fill="#d2ffc8"/>
<rect x="972.2" y="304.15" width="21.399999999999977" height="36.75" fill="#90ff90"/>
<rect x="972.2" y="267.70" width="21.399999999999977" height="36.75" fill="#66ffff"/>
<rect x="972.2" y="231.25" width="21.399999999999977" height="36.75" fill="#00c8ff"/>
<rect x="972.2" y="194.80" width="21.399999999999977" height="36.75" fill="#0064ff"/>
<rect x="972.2" y="158.35" width="21.399999999999977" height="36.75" fill="#9664ff"/>
<rect x="972.2" y="121.90" width="21.399999999999977" height="36.75" fill="#dc64ff"/>
<rect x="972.2" y="85.45" width="21.399999999999977" height="36.75" fill="#ff00f0"/>
<rect x="972.2" y="49.00" width="21.399999999999977" height="36.75" fill="#d29a3c"/>
<path d="M972.2 49.0L982.9000000000001 30.5L993.6 49.0Z" fill="#000"/>
<path d="M972.2 49.0V413.5H993.6V49.0" fill="none" stroke="#000" stroke-width="1" stroke-opacity=".75"/>
<text class="t12" transform="translate(1001.5,418.0) scale(.91,1)">0</text>
<text class="t12" transform="translate(1001.5,381.6) scale(.91,1)">0.01</text>
<text class="t12" transform="translate(1001.5,345.1) scale(.91,1)">0.5</text>
<text class="t12" transform="translate(1001.5,308.6) scale(.91,1)">1</text>
<text class="t12" transform="translate(1001.5,272.2) scale(.91,1)">2</text>
<text class="t12" transform="translate(1001.5,235.8) scale(.91,1)">3</text>
<text class="t12" transform="translate(1001.5,199.3) scale(.91,1)">4</text>
<text class="t12" transform="translate(1001.5,162.8) scale(.91,1)">5</text>
<text class="t12" transform="translate(1001.5,126.4) scale(.91,1)">10</text>
<text class="t12" transform="translate(1001.5,89.9) scale(.91,1)">25</text>
<text class="t12" transform="translate(1001.5,53.5) scale(.91,1)">50</text>
<path d="M994.1 413.5h4M994.1 377.1h4M994.1 340.6h4M994.1 304.1h4M994.1 267.7h4M994.1 231.2h4M994.1 194.8h4M994.1 158.3h4M994.1 121.9h4M994.1 85.4h4M994.1 49.0h4" stroke="#000" stroke-width=".9" fill="none"/>
<text class="t10 m" x="140" y="447">Hourly fraction by occurence</text>
<rect x="74.5" y="452.5" width="121.0" height="18.0" fill="#ffe8ba" stroke="#000" stroke-width=".6"/><rect x="195.5" y="452.5" width="11.5" height="18.0" fill="#d2ffc8" stroke="#000" stroke-width=".6"/>
<rect x="74.5" y="479.5" width="101.0" height="18.0" fill="#ffe8ba" stroke="#000" stroke-width=".6"/><rect x="175.5" y="479.5" width="28.5" height="18.0" fill="#d2ffc8" stroke="#000" stroke-width=".6"/>
<rect x="204" y="479.5" width="3" height="18" fill="#90ff90"/><path d="M204 479.5V497.5M206 479.5V497.5" stroke="#000" stroke-width=".6"/><path d="M206.6 479.5V497.5" stroke="#00c8ff" stroke-width=".8"/><path d="M204 479.5H207M204 497.5H207" stroke="#000" stroke-width=".6"/>
<path d="M195.5 470.5L175.5 479.5M207 470.5L204 479.5M207 470.5L206 479.5M74.5 470.5V479.5M207 470.5V479.5" stroke="#000" stroke-width=".6" fill="none"/>
<text class="t10" x="47" y="466">Est</text><text class="t10" x="48" y="493">Obs</text>
<text class="t10 m" x="66" y="510">0%</text><text class="t10 m" x="135.5" y="510">Areal fraction</text><text class="t10 m" x="209" y="510">100%</text>
<text class="t10 m" x="140" y="528">Hourly fraction of total rain</text>
<rect x="74.5" y="533.5" width="2" height="18" fill="#ffe8ba" stroke="#000" stroke-width=".5"/>
<rect x="76.5" y="533.5" width="14.5" height="18.0" fill="#d2ffc8" stroke="#000" stroke-width=".6"/>
<rect x="74.5" y="560.5" width="2" height="18" fill="#ffe8ba" stroke="#000" stroke-width=".5"/>
<rect x="76.5" y="560.5" width="90.0" height="18.0" fill="#d2ffc8" stroke="#000" stroke-width=".6"/><rect x="166.5" y="560.5" width="25.0" height="18.0" fill="#90ff90" stroke="#000" stroke-width=".6"/><rect x="191.5" y="560.5" width="12.0" height="18.0" fill="#66ffff" stroke="#000" stroke-width=".6"/><rect x="203.5" y="560.5" width="3.5" height="18.0" fill="#00c8ff" stroke="#000" stroke-width=".6"/>
<path d="M74.5 551.5V560.5M76.5 551.5V560.5M91 551.5L166.5 560.5M91 551.5L191.5 560.5" stroke="#000" stroke-width=".6" fill="none"/>
<path d="M91 533.5V551.5L203.5 560.5M91 551.5L207 560.5" stroke="#000" stroke-width="1.5" fill="none" stroke-linejoin="round"/>
<text class="t10" x="47" y="547">Est</text><text class="t10" x="48" y="574">Obs</text>
<text class="t10 m" x="140.5" y="590">Rainfall accumulation by amount</text>
<text class="t10 m" x="339" y="455">GSMAP_NRT_1HR</text>
<text class="t10 m" x="308" y="470">&lt;0.01</text><text class="t10 m" x="370" y="470">≥0.01</text>
<rect x="277.5" y="478.5" width="124" height="95" fill="#fff" stroke="#000" stroke-width="1"/>
<path d="M339.5 478.5V573.5M277.5 526.5H401.5" stroke="#000" stroke-width="1" fill="none"/>
<text class="t10 m" transform="translate(245.5,521) rotate(-90)">ANALYSIS</text>
<text class="t10 e" x="275" y="506">&lt;0.01</text><text class="t10 e" x="275" y="553">≥0.01</text>
<text class="t10 m" x="308" y="506">3043</text><text class="t10 m" x="371" y="506">0</text>
<text class="t10 m" x="308" y="553">14</text><text class="t10 m" x="371" y="553">0</text>
<text class="t10" x="460" y="454" xml:space="preserve" letter-spacing=".04">Validation statistics for 20251227 21  n=3057 Valid. grid=0.25<tspan font-size="7.5" dy="-2.2">°</tspan><tspan dy="2.2"> Units=mm/hr.</tspan></text>
<path d="M459 457.5H997M459 480.5H758" stroke="#000" stroke-width=".9" stroke-dasharray="3.7 1.6" fill="none"/>
<text class="t10" x="609" y="475">ANALYSIS</text><text class="t10" x="671" y="475">GSMAP_NRT_1HR</text>
<text class="t10" x="460" y="499">Num of gridpoints raining</text>
<text class="t10 e" x="649" y="499">14</text><text class="t10 e" x="730" y="499">0</text>
<text class="t10" x="460" y="519">Average rain</text>
<text class="t10 e" x="649" y="519">0.1</text><text class="t10 e" x="730" y="519">0.0</text>
<text class="t10" x="460" y="539">Conditional rain</text>
<text class="t10 e" x="649" y="539">11.5</text><text class="t10 e" x="730" y="539">-999.0</text>
<text class="t10" x="461" y="559">Rain volume (mm km<tspan dy="-4" font-size="7">2</tspan><tspan dy="4">10</tspan><tspan dy="-4" font-size="7">6</tspan><tspan dy="4">)</tspan></text>
<text class="t10 e" x="649" y="559">0.1</text><text class="t10 e" x="730" y="559">0.0</text>
<text class="t10" x="460" y="578">Maximum rain</text>
<text class="t10 e" x="649" y="578">2.3</text><text class="t10 e" x="730" y="578">0.7</text>
<text class="t10" x="784" y="472" xml:space="preserve">Mean abs error =    0.1</text>
<text class="t10" x="784" y="489" xml:space="preserve">RMS error =    0.2</text>
<text class="t10" x="784" y="506" xml:space="preserve">Correlation coeff =  0.356</text>
<text class="t10" x="784" y="523" xml:space="preserve">Frequency bias =  0.000</text>
<text class="t10" x="784" y="540" xml:space="preserve">Probability of detection =  0.000</text>
<text class="t10" x="784" y="557" xml:space="preserve">False alarm ratio = -999.000</text>
<text class="t10" x="784" y="574" xml:space="preserve">Hanssen &amp; Kuipers score =  0.000</text>
<text class="t10" x="784" y="591" xml:space="preserve">Equitable threat score =  0.000</text>
</svg></body></html>
